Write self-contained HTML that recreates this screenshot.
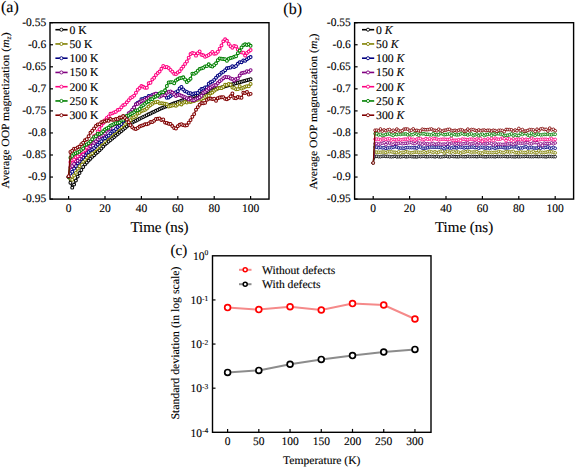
<!DOCTYPE html>
<html><head><meta charset="utf-8"><style>
html,body{margin:0;padding:0;background:#fff;width:575px;height:467px;overflow:hidden;}
svg{display:block;font-family:"Liberation Serif", serif;text-rendering:geometricPrecision;}
text{stroke:#000;stroke-width:0.12px;}
</style></head><body>
<svg width="575" height="467" viewBox="0 0 575 467" font-family='"Liberation Serif", serif'>
<rect width="575" height="467" fill="#fff"/>
<g stroke="#000" stroke-width="1.2">
<line x1="50" y1="22.7" x2="53" y2="22.7"/>
<line x1="50" y1="44.75" x2="53" y2="44.75"/>
<line x1="50" y1="66.8" x2="53" y2="66.8"/>
<line x1="50" y1="88.85" x2="53" y2="88.85"/>
<line x1="50" y1="110.9" x2="53" y2="110.9"/>
<line x1="50" y1="132.95" x2="53" y2="132.95"/>
<line x1="50" y1="155" x2="53" y2="155"/>
<line x1="50" y1="177.05" x2="53" y2="177.05"/>
<line x1="50" y1="199.1" x2="53" y2="199.1"/>
<line x1="68.6" y1="199.1" x2="68.6" y2="195.9"/>
<line x1="105" y1="199.1" x2="105" y2="195.9"/>
<line x1="141.4" y1="199.1" x2="141.4" y2="195.9"/>
<line x1="177.8" y1="199.1" x2="177.8" y2="195.9"/>
<line x1="214.2" y1="199.1" x2="214.2" y2="195.9"/>
<line x1="250.6" y1="199.1" x2="250.6" y2="195.9"/>
</g>
<g font-size="11.5" text-anchor="end">
<text x="46.2" y="25.8">-0.55</text>
<text x="46.2" y="47.85">-0.6</text>
<text x="46.2" y="69.9">-0.65</text>
<text x="46.2" y="91.95">-0.7</text>
<text x="46.2" y="114">-0.75</text>
<text x="46.2" y="136.05">-0.8</text>
<text x="46.2" y="158.1">-0.85</text>
<text x="46.2" y="180.15">-0.9</text>
<text x="46.2" y="202.2">-0.95</text>
</g>
<g font-size="11.5" text-anchor="middle">
<text x="68.6" y="211.7">0</text>
<text x="105" y="211.7">20</text>
<text x="141.4" y="211.7">40</text>
<text x="177.8" y="211.7">60</text>
<text x="214.2" y="211.7">80</text>
<text x="250.6" y="211.7">100</text>
</g>
<text x="159.5" y="231.5" font-size="15" text-anchor="middle">Time (ns)</text>
<text transform="translate(8.7,188.4) rotate(-90)" font-size="11" textLength="156" lengthAdjust="spacingAndGlyphs">Average OOP magnetization (<tspan font-style="italic">m</tspan><tspan font-size="7.5" font-style="italic" dy="2.2">z</tspan><tspan dy="-2.2">)</tspan></text>
<text x="1" y="11.8" font-size="16">(a)</text>
<line x1="55.4" y1="29.7" x2="67.6" y2="29.7" stroke="#000000" stroke-width="1.6"/>
<circle cx="61.4" cy="29.7" r="1.55" fill="#fff" stroke="#000000" stroke-width="0.9"/>
<text x="69.5" y="33.5" font-size="11.7">0 K</text>
<line x1="55.4" y1="43.95" x2="67.6" y2="43.95" stroke="#808000" stroke-width="1.6"/>
<circle cx="61.4" cy="43.95" r="1.55" fill="#fff" stroke="#808000" stroke-width="0.9"/>
<text x="69.5" y="47.75" font-size="11.7">50 K</text>
<line x1="55.4" y1="58.2" x2="67.6" y2="58.2" stroke="#000080" stroke-width="1.6"/>
<circle cx="61.4" cy="58.2" r="1.55" fill="#fff" stroke="#000080" stroke-width="0.9"/>
<text x="69.5" y="62" font-size="11.7">100 K</text>
<line x1="55.4" y1="72.45" x2="67.6" y2="72.45" stroke="#800080" stroke-width="1.6"/>
<circle cx="61.4" cy="72.45" r="1.55" fill="#fff" stroke="#800080" stroke-width="0.9"/>
<text x="69.5" y="76.25" font-size="11.7">150 K</text>
<line x1="55.4" y1="86.7" x2="67.6" y2="86.7" stroke="#ff0080" stroke-width="1.6"/>
<circle cx="61.4" cy="86.7" r="1.55" fill="#fff" stroke="#ff0080" stroke-width="0.9"/>
<text x="69.5" y="90.5" font-size="11.7">200 K</text>
<line x1="55.4" y1="100.95" x2="67.6" y2="100.95" stroke="#008000" stroke-width="1.6"/>
<circle cx="61.4" cy="100.95" r="1.55" fill="#fff" stroke="#008000" stroke-width="0.9"/>
<text x="69.5" y="104.75" font-size="11.7">250 K</text>
<line x1="55.4" y1="115.2" x2="67.6" y2="115.2" stroke="#800000" stroke-width="1.6"/>
<circle cx="61.4" cy="115.2" r="1.55" fill="#fff" stroke="#800000" stroke-width="0.9"/>
<text x="69.5" y="119" font-size="11.7">300 K</text>
<polyline points="68.6,177.05 70.42,182.78 72.24,187.63 74.06,184.55 75.88,180.58 77.7,176.61 79.52,173.08 81.34,170.03 83.16,166.97 84.98,164.38 86.8,162.48 88.62,160.57 90.44,158.67 92.26,156.76 94.08,155.16 95.9,153.56 97.72,151.95 99.54,150.35 101.36,148.49 103.18,146.45 105,144.42 106.82,142.95 108.64,141.48 110.46,140.01 112.28,138.54 114.1,137.07 115.92,135.6 117.74,134.08 119.56,132.56 121.38,131.03 123.2,129.5 125.02,127.97 126.84,126.44 128.66,124.91 130.48,123.5 132.3,122.56 134.12,121.61 135.94,120.66 137.76,119.72 139.58,118.77 141.4,117.87 143.22,116.99 145.04,116.1 146.86,115.22 148.68,114.34 150.5,113.46 152.32,112.58 154.14,111.69 155.96,110.81 157.78,109.93 159.6,109.05 161.42,108.27 163.24,107.56 165.06,106.85 166.88,106.15 168.7,105.44 170.52,104.73 172.34,104.02 174.16,103.32 175.98,102.64 177.8,102 179.62,101.36 181.44,100.72 183.26,100.08 185.08,99.43 186.9,98.79 188.72,98.15 190.54,97.51 192.36,96.87 194.18,96.23 196,95.6 197.82,95 199.64,94.39 201.46,93.78 203.28,93.18 205.1,92.57 206.92,91.96 208.74,91.35 210.56,90.75 212.38,90.14 214.2,89.53 216.02,88.98 217.84,88.46 219.66,87.94 221.48,87.41 223.3,86.89 225.12,86.37 226.94,85.85 228.76,85.33 230.58,84.81 232.4,84.29 234.22,83.77 236.04,83.25 237.86,82.74 239.68,82.22 241.5,81.71 243.32,81.2 245.14,80.69 246.96,80.17 248.78,79.66 250.6,79.15" fill="none" stroke="#000000" stroke-width="1.3" stroke-linejoin="round"/>
<g fill="#fff" stroke="#000000" stroke-width="1.05">
<circle cx="68.6" cy="177.05" r="1.45"/>
<circle cx="70.42" cy="182.78" r="1.45"/>
<circle cx="72.24" cy="187.63" r="1.45"/>
<circle cx="74.06" cy="184.55" r="1.45"/>
<circle cx="75.88" cy="180.58" r="1.45"/>
<circle cx="77.7" cy="176.61" r="1.45"/>
<circle cx="79.52" cy="173.08" r="1.45"/>
<circle cx="81.34" cy="170.03" r="1.45"/>
<circle cx="83.16" cy="166.97" r="1.45"/>
<circle cx="84.98" cy="164.38" r="1.45"/>
<circle cx="86.8" cy="162.48" r="1.45"/>
<circle cx="88.62" cy="160.57" r="1.45"/>
<circle cx="90.44" cy="158.67" r="1.45"/>
<circle cx="92.26" cy="156.76" r="1.45"/>
<circle cx="94.08" cy="155.16" r="1.45"/>
<circle cx="95.9" cy="153.56" r="1.45"/>
<circle cx="97.72" cy="151.95" r="1.45"/>
<circle cx="99.54" cy="150.35" r="1.45"/>
<circle cx="101.36" cy="148.49" r="1.45"/>
<circle cx="103.18" cy="146.45" r="1.45"/>
<circle cx="105" cy="144.42" r="1.45"/>
<circle cx="106.82" cy="142.95" r="1.45"/>
<circle cx="108.64" cy="141.48" r="1.45"/>
<circle cx="110.46" cy="140.01" r="1.45"/>
<circle cx="112.28" cy="138.54" r="1.45"/>
<circle cx="114.1" cy="137.07" r="1.45"/>
<circle cx="115.92" cy="135.6" r="1.45"/>
<circle cx="117.74" cy="134.08" r="1.45"/>
<circle cx="119.56" cy="132.56" r="1.45"/>
<circle cx="121.38" cy="131.03" r="1.45"/>
<circle cx="123.2" cy="129.5" r="1.45"/>
<circle cx="125.02" cy="127.97" r="1.45"/>
<circle cx="126.84" cy="126.44" r="1.45"/>
<circle cx="128.66" cy="124.91" r="1.45"/>
<circle cx="130.48" cy="123.5" r="1.45"/>
<circle cx="132.3" cy="122.56" r="1.45"/>
<circle cx="134.12" cy="121.61" r="1.45"/>
<circle cx="135.94" cy="120.66" r="1.45"/>
<circle cx="137.76" cy="119.72" r="1.45"/>
<circle cx="139.58" cy="118.77" r="1.45"/>
<circle cx="141.4" cy="117.87" r="1.45"/>
<circle cx="143.22" cy="116.99" r="1.45"/>
<circle cx="145.04" cy="116.1" r="1.45"/>
<circle cx="146.86" cy="115.22" r="1.45"/>
<circle cx="148.68" cy="114.34" r="1.45"/>
<circle cx="150.5" cy="113.46" r="1.45"/>
<circle cx="152.32" cy="112.58" r="1.45"/>
<circle cx="154.14" cy="111.69" r="1.45"/>
<circle cx="155.96" cy="110.81" r="1.45"/>
<circle cx="157.78" cy="109.93" r="1.45"/>
<circle cx="159.6" cy="109.05" r="1.45"/>
<circle cx="161.42" cy="108.27" r="1.45"/>
<circle cx="163.24" cy="107.56" r="1.45"/>
<circle cx="165.06" cy="106.85" r="1.45"/>
<circle cx="166.88" cy="106.15" r="1.45"/>
<circle cx="168.7" cy="105.44" r="1.45"/>
<circle cx="170.52" cy="104.73" r="1.45"/>
<circle cx="172.34" cy="104.02" r="1.45"/>
<circle cx="174.16" cy="103.32" r="1.45"/>
<circle cx="175.98" cy="102.64" r="1.45"/>
<circle cx="177.8" cy="102" r="1.45"/>
<circle cx="179.62" cy="101.36" r="1.45"/>
<circle cx="181.44" cy="100.72" r="1.45"/>
<circle cx="183.26" cy="100.08" r="1.45"/>
<circle cx="185.08" cy="99.43" r="1.45"/>
<circle cx="186.9" cy="98.79" r="1.45"/>
<circle cx="188.72" cy="98.15" r="1.45"/>
<circle cx="190.54" cy="97.51" r="1.45"/>
<circle cx="192.36" cy="96.87" r="1.45"/>
<circle cx="194.18" cy="96.23" r="1.45"/>
<circle cx="196" cy="95.6" r="1.45"/>
<circle cx="197.82" cy="95" r="1.45"/>
<circle cx="199.64" cy="94.39" r="1.45"/>
<circle cx="201.46" cy="93.78" r="1.45"/>
<circle cx="203.28" cy="93.18" r="1.45"/>
<circle cx="205.1" cy="92.57" r="1.45"/>
<circle cx="206.92" cy="91.96" r="1.45"/>
<circle cx="208.74" cy="91.35" r="1.45"/>
<circle cx="210.56" cy="90.75" r="1.45"/>
<circle cx="212.38" cy="90.14" r="1.45"/>
<circle cx="214.2" cy="89.53" r="1.45"/>
<circle cx="216.02" cy="88.98" r="1.45"/>
<circle cx="217.84" cy="88.46" r="1.45"/>
<circle cx="219.66" cy="87.94" r="1.45"/>
<circle cx="221.48" cy="87.41" r="1.45"/>
<circle cx="223.3" cy="86.89" r="1.45"/>
<circle cx="225.12" cy="86.37" r="1.45"/>
<circle cx="226.94" cy="85.85" r="1.45"/>
<circle cx="228.76" cy="85.33" r="1.45"/>
<circle cx="230.58" cy="84.81" r="1.45"/>
<circle cx="232.4" cy="84.29" r="1.45"/>
<circle cx="234.22" cy="83.77" r="1.45"/>
<circle cx="236.04" cy="83.25" r="1.45"/>
<circle cx="237.86" cy="82.74" r="1.45"/>
<circle cx="239.68" cy="82.22" r="1.45"/>
<circle cx="241.5" cy="81.71" r="1.45"/>
<circle cx="243.32" cy="81.2" r="1.45"/>
<circle cx="245.14" cy="80.69" r="1.45"/>
<circle cx="246.96" cy="80.17" r="1.45"/>
<circle cx="248.78" cy="79.66" r="1.45"/>
<circle cx="250.6" cy="79.15" r="1.45"/>
</g>
<polyline points="68.6,177.05 70.42,178.81 72.24,179.7 74.06,175.47 75.88,172.86 77.7,168.64 79.52,166.15 81.34,162.29 83.16,161.63 84.98,159.73 86.8,157.61 88.62,155.42 90.44,153.99 92.26,153.24 94.08,150.8 95.9,149.18 97.72,147.7 99.54,146.1 101.36,143.11 103.18,142.53 105,141.05 106.82,138.55 108.64,137.1 110.46,135.64 112.28,133.71 114.1,132.4 115.92,130.99 117.74,129.2 119.56,128.04 121.38,127 123.2,125.35 125.02,123.91 126.84,122.01 128.66,121.17 130.48,120.19 132.3,117.8 134.12,117.17 135.94,116.12 137.76,113.51 139.58,112.71 141.4,110.93 143.22,110.49 145.04,109.83 146.86,108.47 148.68,106.62 150.5,105.02 152.32,103.84 154.14,102.55 155.96,102.21 157.78,101.72 159.6,103.35 161.42,103.17 163.24,103.36 165.06,103.79 166.88,104.1 168.7,106.48 170.52,105.9 172.34,105.52 174.16,105.16 175.98,105.69 177.8,104.51 179.62,103.2 181.44,104.44 183.26,102.86 185.08,101.99 186.9,102.53 188.72,101.45 190.54,101.93 192.36,101.39 194.18,100.99 196,100.01 197.82,99.67 199.64,98.61 201.46,99.12 203.28,98.19 205.1,97.04 206.92,95.99 208.74,95.73 210.56,93.36 212.38,92.55 214.2,90.68 216.02,89.61 217.84,88.3 219.66,88.07 221.48,88.13 223.3,86.85 225.12,84.71 226.94,85 228.76,84.03 230.58,84.74 232.4,87.48 234.22,87.95 236.04,89.2 237.86,89.13 239.68,86.21 241.5,88.46 243.32,87.63 245.14,86.67 246.96,86.29 248.78,86.31 250.6,83.9" fill="none" stroke="#808000" stroke-width="1.3" stroke-linejoin="round"/>
<g fill="#fff" stroke="#808000" stroke-width="1.05">
<circle cx="68.6" cy="177.05" r="1.45"/>
<circle cx="70.42" cy="178.81" r="1.45"/>
<circle cx="72.24" cy="179.7" r="1.45"/>
<circle cx="74.06" cy="175.47" r="1.45"/>
<circle cx="75.88" cy="172.86" r="1.45"/>
<circle cx="77.7" cy="168.64" r="1.45"/>
<circle cx="79.52" cy="166.15" r="1.45"/>
<circle cx="81.34" cy="162.29" r="1.45"/>
<circle cx="83.16" cy="161.63" r="1.45"/>
<circle cx="84.98" cy="159.73" r="1.45"/>
<circle cx="86.8" cy="157.61" r="1.45"/>
<circle cx="88.62" cy="155.42" r="1.45"/>
<circle cx="90.44" cy="153.99" r="1.45"/>
<circle cx="92.26" cy="153.24" r="1.45"/>
<circle cx="94.08" cy="150.8" r="1.45"/>
<circle cx="95.9" cy="149.18" r="1.45"/>
<circle cx="97.72" cy="147.7" r="1.45"/>
<circle cx="99.54" cy="146.1" r="1.45"/>
<circle cx="101.36" cy="143.11" r="1.45"/>
<circle cx="103.18" cy="142.53" r="1.45"/>
<circle cx="105" cy="141.05" r="1.45"/>
<circle cx="106.82" cy="138.55" r="1.45"/>
<circle cx="108.64" cy="137.1" r="1.45"/>
<circle cx="110.46" cy="135.64" r="1.45"/>
<circle cx="112.28" cy="133.71" r="1.45"/>
<circle cx="114.1" cy="132.4" r="1.45"/>
<circle cx="115.92" cy="130.99" r="1.45"/>
<circle cx="117.74" cy="129.2" r="1.45"/>
<circle cx="119.56" cy="128.04" r="1.45"/>
<circle cx="121.38" cy="127" r="1.45"/>
<circle cx="123.2" cy="125.35" r="1.45"/>
<circle cx="125.02" cy="123.91" r="1.45"/>
<circle cx="126.84" cy="122.01" r="1.45"/>
<circle cx="128.66" cy="121.17" r="1.45"/>
<circle cx="130.48" cy="120.19" r="1.45"/>
<circle cx="132.3" cy="117.8" r="1.45"/>
<circle cx="134.12" cy="117.17" r="1.45"/>
<circle cx="135.94" cy="116.12" r="1.45"/>
<circle cx="137.76" cy="113.51" r="1.45"/>
<circle cx="139.58" cy="112.71" r="1.45"/>
<circle cx="141.4" cy="110.93" r="1.45"/>
<circle cx="143.22" cy="110.49" r="1.45"/>
<circle cx="145.04" cy="109.83" r="1.45"/>
<circle cx="146.86" cy="108.47" r="1.45"/>
<circle cx="148.68" cy="106.62" r="1.45"/>
<circle cx="150.5" cy="105.02" r="1.45"/>
<circle cx="152.32" cy="103.84" r="1.45"/>
<circle cx="154.14" cy="102.55" r="1.45"/>
<circle cx="155.96" cy="102.21" r="1.45"/>
<circle cx="157.78" cy="101.72" r="1.45"/>
<circle cx="159.6" cy="103.35" r="1.45"/>
<circle cx="161.42" cy="103.17" r="1.45"/>
<circle cx="163.24" cy="103.36" r="1.45"/>
<circle cx="165.06" cy="103.79" r="1.45"/>
<circle cx="166.88" cy="104.1" r="1.45"/>
<circle cx="168.7" cy="106.48" r="1.45"/>
<circle cx="170.52" cy="105.9" r="1.45"/>
<circle cx="172.34" cy="105.52" r="1.45"/>
<circle cx="174.16" cy="105.16" r="1.45"/>
<circle cx="175.98" cy="105.69" r="1.45"/>
<circle cx="177.8" cy="104.51" r="1.45"/>
<circle cx="179.62" cy="103.2" r="1.45"/>
<circle cx="181.44" cy="104.44" r="1.45"/>
<circle cx="183.26" cy="102.86" r="1.45"/>
<circle cx="185.08" cy="101.99" r="1.45"/>
<circle cx="186.9" cy="102.53" r="1.45"/>
<circle cx="188.72" cy="101.45" r="1.45"/>
<circle cx="190.54" cy="101.93" r="1.45"/>
<circle cx="192.36" cy="101.39" r="1.45"/>
<circle cx="194.18" cy="100.99" r="1.45"/>
<circle cx="196" cy="100.01" r="1.45"/>
<circle cx="197.82" cy="99.67" r="1.45"/>
<circle cx="199.64" cy="98.61" r="1.45"/>
<circle cx="201.46" cy="99.12" r="1.45"/>
<circle cx="203.28" cy="98.19" r="1.45"/>
<circle cx="205.1" cy="97.04" r="1.45"/>
<circle cx="206.92" cy="95.99" r="1.45"/>
<circle cx="208.74" cy="95.73" r="1.45"/>
<circle cx="210.56" cy="93.36" r="1.45"/>
<circle cx="212.38" cy="92.55" r="1.45"/>
<circle cx="214.2" cy="90.68" r="1.45"/>
<circle cx="216.02" cy="89.61" r="1.45"/>
<circle cx="217.84" cy="88.3" r="1.45"/>
<circle cx="219.66" cy="88.07" r="1.45"/>
<circle cx="221.48" cy="88.13" r="1.45"/>
<circle cx="223.3" cy="86.85" r="1.45"/>
<circle cx="225.12" cy="84.71" r="1.45"/>
<circle cx="226.94" cy="85" r="1.45"/>
<circle cx="228.76" cy="84.03" r="1.45"/>
<circle cx="230.58" cy="84.74" r="1.45"/>
<circle cx="232.4" cy="87.48" r="1.45"/>
<circle cx="234.22" cy="87.95" r="1.45"/>
<circle cx="236.04" cy="89.2" r="1.45"/>
<circle cx="237.86" cy="89.13" r="1.45"/>
<circle cx="239.68" cy="86.21" r="1.45"/>
<circle cx="241.5" cy="88.46" r="1.45"/>
<circle cx="243.32" cy="87.63" r="1.45"/>
<circle cx="245.14" cy="86.67" r="1.45"/>
<circle cx="246.96" cy="86.29" r="1.45"/>
<circle cx="248.78" cy="86.31" r="1.45"/>
<circle cx="250.6" cy="83.9" r="1.45"/>
</g>
<polyline points="68.6,177.05 70.42,173.52 72.24,171.76 74.06,168.53 75.88,166.03 77.7,163.14 79.52,161.49 81.34,159.1 83.16,157.61 84.98,155.17 86.8,152.68 88.62,151.91 90.44,150.34 92.26,149.42 94.08,147.96 95.9,146.11 97.72,144.61 99.54,142.57 101.36,141.17 103.18,138.73 105,138.19 106.82,136.61 108.64,135.46 110.46,133.38 112.28,131.56 114.1,130.84 115.92,129.01 117.74,126.91 119.56,125.57 121.38,123.99 123.2,121.41 125.02,119.67 126.84,117.31 128.66,114.69 130.48,112.5 132.3,110.35 134.12,107.5 135.94,104.13 137.76,102.7 139.58,101.98 141.4,99.17 143.22,99.04 145.04,97.87 146.86,98.09 148.68,95.96 150.5,96.11 152.32,95.02 154.14,94.86 155.96,93.84 157.78,93.97 159.6,94.05 161.42,93.82 163.24,94.27 165.06,95.39 166.88,97.76 168.7,97.4 170.52,96 172.34,94.78 174.16,93.57 175.98,92.28 177.8,91.16 179.62,88.49 181.44,86.94 183.26,89.49 185.08,91.29 186.9,91.85 188.72,93.22 190.54,93.26 192.36,94.26 194.18,93.46 196,93.17 197.82,92.91 199.64,90.74 201.46,89.09 203.28,88.6 205.1,87.42 206.92,87.31 208.74,83.74 210.56,82.33 212.38,81.37 214.2,79.86 216.02,77.65 217.84,75.66 219.66,74.64 221.48,72.66 223.3,71.76 225.12,70.16 226.94,68.31 228.76,67.85 230.58,67.46 232.4,66.29 234.22,67.09 236.04,66.02 237.86,63.85 239.68,62.12 241.5,62.19 243.32,60.4 245.14,60.7 246.96,59.31 248.78,58.02 250.6,57.06" fill="none" stroke="#000080" stroke-width="1.3" stroke-linejoin="round"/>
<g fill="#fff" stroke="#000080" stroke-width="1.05">
<circle cx="68.6" cy="177.05" r="1.45"/>
<circle cx="70.42" cy="173.52" r="1.45"/>
<circle cx="72.24" cy="171.76" r="1.45"/>
<circle cx="74.06" cy="168.53" r="1.45"/>
<circle cx="75.88" cy="166.03" r="1.45"/>
<circle cx="77.7" cy="163.14" r="1.45"/>
<circle cx="79.52" cy="161.49" r="1.45"/>
<circle cx="81.34" cy="159.1" r="1.45"/>
<circle cx="83.16" cy="157.61" r="1.45"/>
<circle cx="84.98" cy="155.17" r="1.45"/>
<circle cx="86.8" cy="152.68" r="1.45"/>
<circle cx="88.62" cy="151.91" r="1.45"/>
<circle cx="90.44" cy="150.34" r="1.45"/>
<circle cx="92.26" cy="149.42" r="1.45"/>
<circle cx="94.08" cy="147.96" r="1.45"/>
<circle cx="95.9" cy="146.11" r="1.45"/>
<circle cx="97.72" cy="144.61" r="1.45"/>
<circle cx="99.54" cy="142.57" r="1.45"/>
<circle cx="101.36" cy="141.17" r="1.45"/>
<circle cx="103.18" cy="138.73" r="1.45"/>
<circle cx="105" cy="138.19" r="1.45"/>
<circle cx="106.82" cy="136.61" r="1.45"/>
<circle cx="108.64" cy="135.46" r="1.45"/>
<circle cx="110.46" cy="133.38" r="1.45"/>
<circle cx="112.28" cy="131.56" r="1.45"/>
<circle cx="114.1" cy="130.84" r="1.45"/>
<circle cx="115.92" cy="129.01" r="1.45"/>
<circle cx="117.74" cy="126.91" r="1.45"/>
<circle cx="119.56" cy="125.57" r="1.45"/>
<circle cx="121.38" cy="123.99" r="1.45"/>
<circle cx="123.2" cy="121.41" r="1.45"/>
<circle cx="125.02" cy="119.67" r="1.45"/>
<circle cx="126.84" cy="117.31" r="1.45"/>
<circle cx="128.66" cy="114.69" r="1.45"/>
<circle cx="130.48" cy="112.5" r="1.45"/>
<circle cx="132.3" cy="110.35" r="1.45"/>
<circle cx="134.12" cy="107.5" r="1.45"/>
<circle cx="135.94" cy="104.13" r="1.45"/>
<circle cx="137.76" cy="102.7" r="1.45"/>
<circle cx="139.58" cy="101.98" r="1.45"/>
<circle cx="141.4" cy="99.17" r="1.45"/>
<circle cx="143.22" cy="99.04" r="1.45"/>
<circle cx="145.04" cy="97.87" r="1.45"/>
<circle cx="146.86" cy="98.09" r="1.45"/>
<circle cx="148.68" cy="95.96" r="1.45"/>
<circle cx="150.5" cy="96.11" r="1.45"/>
<circle cx="152.32" cy="95.02" r="1.45"/>
<circle cx="154.14" cy="94.86" r="1.45"/>
<circle cx="155.96" cy="93.84" r="1.45"/>
<circle cx="157.78" cy="93.97" r="1.45"/>
<circle cx="159.6" cy="94.05" r="1.45"/>
<circle cx="161.42" cy="93.82" r="1.45"/>
<circle cx="163.24" cy="94.27" r="1.45"/>
<circle cx="165.06" cy="95.39" r="1.45"/>
<circle cx="166.88" cy="97.76" r="1.45"/>
<circle cx="168.7" cy="97.4" r="1.45"/>
<circle cx="170.52" cy="96" r="1.45"/>
<circle cx="172.34" cy="94.78" r="1.45"/>
<circle cx="174.16" cy="93.57" r="1.45"/>
<circle cx="175.98" cy="92.28" r="1.45"/>
<circle cx="177.8" cy="91.16" r="1.45"/>
<circle cx="179.62" cy="88.49" r="1.45"/>
<circle cx="181.44" cy="86.94" r="1.45"/>
<circle cx="183.26" cy="89.49" r="1.45"/>
<circle cx="185.08" cy="91.29" r="1.45"/>
<circle cx="186.9" cy="91.85" r="1.45"/>
<circle cx="188.72" cy="93.22" r="1.45"/>
<circle cx="190.54" cy="93.26" r="1.45"/>
<circle cx="192.36" cy="94.26" r="1.45"/>
<circle cx="194.18" cy="93.46" r="1.45"/>
<circle cx="196" cy="93.17" r="1.45"/>
<circle cx="197.82" cy="92.91" r="1.45"/>
<circle cx="199.64" cy="90.74" r="1.45"/>
<circle cx="201.46" cy="89.09" r="1.45"/>
<circle cx="203.28" cy="88.6" r="1.45"/>
<circle cx="205.1" cy="87.42" r="1.45"/>
<circle cx="206.92" cy="87.31" r="1.45"/>
<circle cx="208.74" cy="83.74" r="1.45"/>
<circle cx="210.56" cy="82.33" r="1.45"/>
<circle cx="212.38" cy="81.37" r="1.45"/>
<circle cx="214.2" cy="79.86" r="1.45"/>
<circle cx="216.02" cy="77.65" r="1.45"/>
<circle cx="217.84" cy="75.66" r="1.45"/>
<circle cx="219.66" cy="74.64" r="1.45"/>
<circle cx="221.48" cy="72.66" r="1.45"/>
<circle cx="223.3" cy="71.76" r="1.45"/>
<circle cx="225.12" cy="70.16" r="1.45"/>
<circle cx="226.94" cy="68.31" r="1.45"/>
<circle cx="228.76" cy="67.85" r="1.45"/>
<circle cx="230.58" cy="67.46" r="1.45"/>
<circle cx="232.4" cy="66.29" r="1.45"/>
<circle cx="234.22" cy="67.09" r="1.45"/>
<circle cx="236.04" cy="66.02" r="1.45"/>
<circle cx="237.86" cy="63.85" r="1.45"/>
<circle cx="239.68" cy="62.12" r="1.45"/>
<circle cx="241.5" cy="62.19" r="1.45"/>
<circle cx="243.32" cy="60.4" r="1.45"/>
<circle cx="245.14" cy="60.7" r="1.45"/>
<circle cx="246.96" cy="59.31" r="1.45"/>
<circle cx="248.78" cy="58.02" r="1.45"/>
<circle cx="250.6" cy="57.06" r="1.45"/>
</g>
<polyline points="68.6,177.05 70.42,167.35 72.24,166.02 74.06,163.92 75.88,161.16 77.7,160.57 79.52,158.71 81.34,156.25 83.16,154.47 84.98,151.05 86.8,149.53 88.62,148.29 90.44,146.34 92.26,142.8 94.08,142.94 95.9,141.33 97.72,139.09 99.54,137.33 101.36,135.96 103.18,134.98 105,133.48 106.82,130.81 108.64,129.42 110.46,128.52 112.28,125.57 114.1,124.6 115.92,123.96 117.74,122.8 119.56,121.36 121.38,120.3 123.2,119.11 125.02,116.68 126.84,116.07 128.66,113.19 130.48,112.25 132.3,109.63 134.12,107.51 135.94,104.36 137.76,103.73 139.58,102.57 141.4,101.16 143.22,100.61 145.04,99.73 146.86,98.59 148.68,97.8 150.5,96.7 152.32,97.03 154.14,94.31 155.96,93.72 157.78,95.1 159.6,96.71 161.42,95.79 163.24,94.91 165.06,95.36 166.88,92.84 168.7,91.73 170.52,91.41 172.34,92.55 174.16,94.24 175.98,95.97 177.8,95.1 179.62,95.08 181.44,95.77 183.26,96.42 185.08,97.28 186.9,98.25 188.72,99.44 190.54,98.32 192.36,100.3 194.18,100.2 196,99.12 197.82,98.34 199.64,97.23 201.46,95.73 203.28,92.75 205.1,91.8 206.92,90.09 208.74,88.47 210.56,87.57 212.38,86.29 214.2,85.21 216.02,85.06 217.84,83.09 219.66,81.18 221.48,79.87 223.3,78.15 225.12,77.01 226.94,77.17 228.76,77.16 230.58,78.45 232.4,78.92 234.22,80.41 236.04,79.07 237.86,78.47 239.68,75.44 241.5,73.32 243.32,72.69 245.14,72.43 246.96,71.28 248.78,71.77 250.6,70.1" fill="none" stroke="#800080" stroke-width="1.3" stroke-linejoin="round"/>
<g fill="#fff" stroke="#800080" stroke-width="1.05">
<circle cx="68.6" cy="177.05" r="1.45"/>
<circle cx="70.42" cy="167.35" r="1.45"/>
<circle cx="72.24" cy="166.02" r="1.45"/>
<circle cx="74.06" cy="163.92" r="1.45"/>
<circle cx="75.88" cy="161.16" r="1.45"/>
<circle cx="77.7" cy="160.57" r="1.45"/>
<circle cx="79.52" cy="158.71" r="1.45"/>
<circle cx="81.34" cy="156.25" r="1.45"/>
<circle cx="83.16" cy="154.47" r="1.45"/>
<circle cx="84.98" cy="151.05" r="1.45"/>
<circle cx="86.8" cy="149.53" r="1.45"/>
<circle cx="88.62" cy="148.29" r="1.45"/>
<circle cx="90.44" cy="146.34" r="1.45"/>
<circle cx="92.26" cy="142.8" r="1.45"/>
<circle cx="94.08" cy="142.94" r="1.45"/>
<circle cx="95.9" cy="141.33" r="1.45"/>
<circle cx="97.72" cy="139.09" r="1.45"/>
<circle cx="99.54" cy="137.33" r="1.45"/>
<circle cx="101.36" cy="135.96" r="1.45"/>
<circle cx="103.18" cy="134.98" r="1.45"/>
<circle cx="105" cy="133.48" r="1.45"/>
<circle cx="106.82" cy="130.81" r="1.45"/>
<circle cx="108.64" cy="129.42" r="1.45"/>
<circle cx="110.46" cy="128.52" r="1.45"/>
<circle cx="112.28" cy="125.57" r="1.45"/>
<circle cx="114.1" cy="124.6" r="1.45"/>
<circle cx="115.92" cy="123.96" r="1.45"/>
<circle cx="117.74" cy="122.8" r="1.45"/>
<circle cx="119.56" cy="121.36" r="1.45"/>
<circle cx="121.38" cy="120.3" r="1.45"/>
<circle cx="123.2" cy="119.11" r="1.45"/>
<circle cx="125.02" cy="116.68" r="1.45"/>
<circle cx="126.84" cy="116.07" r="1.45"/>
<circle cx="128.66" cy="113.19" r="1.45"/>
<circle cx="130.48" cy="112.25" r="1.45"/>
<circle cx="132.3" cy="109.63" r="1.45"/>
<circle cx="134.12" cy="107.51" r="1.45"/>
<circle cx="135.94" cy="104.36" r="1.45"/>
<circle cx="137.76" cy="103.73" r="1.45"/>
<circle cx="139.58" cy="102.57" r="1.45"/>
<circle cx="141.4" cy="101.16" r="1.45"/>
<circle cx="143.22" cy="100.61" r="1.45"/>
<circle cx="145.04" cy="99.73" r="1.45"/>
<circle cx="146.86" cy="98.59" r="1.45"/>
<circle cx="148.68" cy="97.8" r="1.45"/>
<circle cx="150.5" cy="96.7" r="1.45"/>
<circle cx="152.32" cy="97.03" r="1.45"/>
<circle cx="154.14" cy="94.31" r="1.45"/>
<circle cx="155.96" cy="93.72" r="1.45"/>
<circle cx="157.78" cy="95.1" r="1.45"/>
<circle cx="159.6" cy="96.71" r="1.45"/>
<circle cx="161.42" cy="95.79" r="1.45"/>
<circle cx="163.24" cy="94.91" r="1.45"/>
<circle cx="165.06" cy="95.36" r="1.45"/>
<circle cx="166.88" cy="92.84" r="1.45"/>
<circle cx="168.7" cy="91.73" r="1.45"/>
<circle cx="170.52" cy="91.41" r="1.45"/>
<circle cx="172.34" cy="92.55" r="1.45"/>
<circle cx="174.16" cy="94.24" r="1.45"/>
<circle cx="175.98" cy="95.97" r="1.45"/>
<circle cx="177.8" cy="95.1" r="1.45"/>
<circle cx="179.62" cy="95.08" r="1.45"/>
<circle cx="181.44" cy="95.77" r="1.45"/>
<circle cx="183.26" cy="96.42" r="1.45"/>
<circle cx="185.08" cy="97.28" r="1.45"/>
<circle cx="186.9" cy="98.25" r="1.45"/>
<circle cx="188.72" cy="99.44" r="1.45"/>
<circle cx="190.54" cy="98.32" r="1.45"/>
<circle cx="192.36" cy="100.3" r="1.45"/>
<circle cx="194.18" cy="100.2" r="1.45"/>
<circle cx="196" cy="99.12" r="1.45"/>
<circle cx="197.82" cy="98.34" r="1.45"/>
<circle cx="199.64" cy="97.23" r="1.45"/>
<circle cx="201.46" cy="95.73" r="1.45"/>
<circle cx="203.28" cy="92.75" r="1.45"/>
<circle cx="205.1" cy="91.8" r="1.45"/>
<circle cx="206.92" cy="90.09" r="1.45"/>
<circle cx="208.74" cy="88.47" r="1.45"/>
<circle cx="210.56" cy="87.57" r="1.45"/>
<circle cx="212.38" cy="86.29" r="1.45"/>
<circle cx="214.2" cy="85.21" r="1.45"/>
<circle cx="216.02" cy="85.06" r="1.45"/>
<circle cx="217.84" cy="83.09" r="1.45"/>
<circle cx="219.66" cy="81.18" r="1.45"/>
<circle cx="221.48" cy="79.87" r="1.45"/>
<circle cx="223.3" cy="78.15" r="1.45"/>
<circle cx="225.12" cy="77.01" r="1.45"/>
<circle cx="226.94" cy="77.17" r="1.45"/>
<circle cx="228.76" cy="77.16" r="1.45"/>
<circle cx="230.58" cy="78.45" r="1.45"/>
<circle cx="232.4" cy="78.92" r="1.45"/>
<circle cx="234.22" cy="80.41" r="1.45"/>
<circle cx="236.04" cy="79.07" r="1.45"/>
<circle cx="237.86" cy="78.47" r="1.45"/>
<circle cx="239.68" cy="75.44" r="1.45"/>
<circle cx="241.5" cy="73.32" r="1.45"/>
<circle cx="243.32" cy="72.69" r="1.45"/>
<circle cx="245.14" cy="72.43" r="1.45"/>
<circle cx="246.96" cy="71.28" r="1.45"/>
<circle cx="248.78" cy="71.77" r="1.45"/>
<circle cx="250.6" cy="70.1" r="1.45"/>
</g>
<polyline points="68.6,177.05 70.42,162.06 72.24,160.29 74.06,159.54 75.88,157.24 77.7,156.27 79.52,153.96 81.34,152.18 83.16,151.51 84.98,150.08 86.8,147.53 88.62,144.16 90.44,141.84 92.26,139.01 94.08,135.9 95.9,135.1 97.72,131.45 99.54,129.18 101.36,125.44 103.18,123.05 105,120.31 106.82,117.86 108.64,116.4 110.46,113.83 112.28,113.37 114.1,112.39 115.92,111.71 117.74,109.93 119.56,109.56 121.38,107.27 123.2,105.34 125.02,104.52 126.84,102.3 128.66,100.25 130.48,98.03 132.3,97 134.12,95.61 135.94,92.75 137.76,89.71 139.58,88.09 141.4,86.08 143.22,86.81 145.04,87.72 146.86,87.68 148.68,83.17 150.5,82.74 152.32,79.44 154.14,77.83 155.96,75.02 157.78,73.06 159.6,71.55 161.42,68.81 163.24,65.89 165.06,67.15 166.88,67.01 168.7,68.06 170.52,70.04 172.34,71.79 174.16,73.73 175.98,74.07 177.8,72.49 179.62,71.15 181.44,68.68 183.26,66.58 185.08,63.88 186.9,61.5 188.72,57.69 190.54,54.1 192.36,52.99 194.18,53.39 196,55.64 197.82,53.24 199.64,51.39 201.46,54.71 203.28,55.35 205.1,56.7 206.92,55.98 208.74,55.02 210.56,53.81 212.38,51.93 214.2,53.72 216.02,53.51 217.84,51.78 219.66,48.68 221.48,45.44 223.3,41.34 225.12,39.34 226.94,40.82 228.76,43.88 230.58,46.28 232.4,47.66 234.22,46 236.04,46.43 237.86,49.38 239.68,51.91 241.5,52.39 243.32,52.76 245.14,55.57 246.96,52.9 248.78,51.6 250.6,50.05" fill="none" stroke="#ff0080" stroke-width="1.3" stroke-linejoin="round"/>
<g fill="#fff" stroke="#ff0080" stroke-width="1.05">
<circle cx="68.6" cy="177.05" r="1.45"/>
<circle cx="70.42" cy="162.06" r="1.45"/>
<circle cx="72.24" cy="160.29" r="1.45"/>
<circle cx="74.06" cy="159.54" r="1.45"/>
<circle cx="75.88" cy="157.24" r="1.45"/>
<circle cx="77.7" cy="156.27" r="1.45"/>
<circle cx="79.52" cy="153.96" r="1.45"/>
<circle cx="81.34" cy="152.18" r="1.45"/>
<circle cx="83.16" cy="151.51" r="1.45"/>
<circle cx="84.98" cy="150.08" r="1.45"/>
<circle cx="86.8" cy="147.53" r="1.45"/>
<circle cx="88.62" cy="144.16" r="1.45"/>
<circle cx="90.44" cy="141.84" r="1.45"/>
<circle cx="92.26" cy="139.01" r="1.45"/>
<circle cx="94.08" cy="135.9" r="1.45"/>
<circle cx="95.9" cy="135.1" r="1.45"/>
<circle cx="97.72" cy="131.45" r="1.45"/>
<circle cx="99.54" cy="129.18" r="1.45"/>
<circle cx="101.36" cy="125.44" r="1.45"/>
<circle cx="103.18" cy="123.05" r="1.45"/>
<circle cx="105" cy="120.31" r="1.45"/>
<circle cx="106.82" cy="117.86" r="1.45"/>
<circle cx="108.64" cy="116.4" r="1.45"/>
<circle cx="110.46" cy="113.83" r="1.45"/>
<circle cx="112.28" cy="113.37" r="1.45"/>
<circle cx="114.1" cy="112.39" r="1.45"/>
<circle cx="115.92" cy="111.71" r="1.45"/>
<circle cx="117.74" cy="109.93" r="1.45"/>
<circle cx="119.56" cy="109.56" r="1.45"/>
<circle cx="121.38" cy="107.27" r="1.45"/>
<circle cx="123.2" cy="105.34" r="1.45"/>
<circle cx="125.02" cy="104.52" r="1.45"/>
<circle cx="126.84" cy="102.3" r="1.45"/>
<circle cx="128.66" cy="100.25" r="1.45"/>
<circle cx="130.48" cy="98.03" r="1.45"/>
<circle cx="132.3" cy="97" r="1.45"/>
<circle cx="134.12" cy="95.61" r="1.45"/>
<circle cx="135.94" cy="92.75" r="1.45"/>
<circle cx="137.76" cy="89.71" r="1.45"/>
<circle cx="139.58" cy="88.09" r="1.45"/>
<circle cx="141.4" cy="86.08" r="1.45"/>
<circle cx="143.22" cy="86.81" r="1.45"/>
<circle cx="145.04" cy="87.72" r="1.45"/>
<circle cx="146.86" cy="87.68" r="1.45"/>
<circle cx="148.68" cy="83.17" r="1.45"/>
<circle cx="150.5" cy="82.74" r="1.45"/>
<circle cx="152.32" cy="79.44" r="1.45"/>
<circle cx="154.14" cy="77.83" r="1.45"/>
<circle cx="155.96" cy="75.02" r="1.45"/>
<circle cx="157.78" cy="73.06" r="1.45"/>
<circle cx="159.6" cy="71.55" r="1.45"/>
<circle cx="161.42" cy="68.81" r="1.45"/>
<circle cx="163.24" cy="65.89" r="1.45"/>
<circle cx="165.06" cy="67.15" r="1.45"/>
<circle cx="166.88" cy="67.01" r="1.45"/>
<circle cx="168.7" cy="68.06" r="1.45"/>
<circle cx="170.52" cy="70.04" r="1.45"/>
<circle cx="172.34" cy="71.79" r="1.45"/>
<circle cx="174.16" cy="73.73" r="1.45"/>
<circle cx="175.98" cy="74.07" r="1.45"/>
<circle cx="177.8" cy="72.49" r="1.45"/>
<circle cx="179.62" cy="71.15" r="1.45"/>
<circle cx="181.44" cy="68.68" r="1.45"/>
<circle cx="183.26" cy="66.58" r="1.45"/>
<circle cx="185.08" cy="63.88" r="1.45"/>
<circle cx="186.9" cy="61.5" r="1.45"/>
<circle cx="188.72" cy="57.69" r="1.45"/>
<circle cx="190.54" cy="54.1" r="1.45"/>
<circle cx="192.36" cy="52.99" r="1.45"/>
<circle cx="194.18" cy="53.39" r="1.45"/>
<circle cx="196" cy="55.64" r="1.45"/>
<circle cx="197.82" cy="53.24" r="1.45"/>
<circle cx="199.64" cy="51.39" r="1.45"/>
<circle cx="201.46" cy="54.71" r="1.45"/>
<circle cx="203.28" cy="55.35" r="1.45"/>
<circle cx="205.1" cy="56.7" r="1.45"/>
<circle cx="206.92" cy="55.98" r="1.45"/>
<circle cx="208.74" cy="55.02" r="1.45"/>
<circle cx="210.56" cy="53.81" r="1.45"/>
<circle cx="212.38" cy="51.93" r="1.45"/>
<circle cx="214.2" cy="53.72" r="1.45"/>
<circle cx="216.02" cy="53.51" r="1.45"/>
<circle cx="217.84" cy="51.78" r="1.45"/>
<circle cx="219.66" cy="48.68" r="1.45"/>
<circle cx="221.48" cy="45.44" r="1.45"/>
<circle cx="223.3" cy="41.34" r="1.45"/>
<circle cx="225.12" cy="39.34" r="1.45"/>
<circle cx="226.94" cy="40.82" r="1.45"/>
<circle cx="228.76" cy="43.88" r="1.45"/>
<circle cx="230.58" cy="46.28" r="1.45"/>
<circle cx="232.4" cy="47.66" r="1.45"/>
<circle cx="234.22" cy="46" r="1.45"/>
<circle cx="236.04" cy="46.43" r="1.45"/>
<circle cx="237.86" cy="49.38" r="1.45"/>
<circle cx="239.68" cy="51.91" r="1.45"/>
<circle cx="241.5" cy="52.39" r="1.45"/>
<circle cx="243.32" cy="52.76" r="1.45"/>
<circle cx="245.14" cy="55.57" r="1.45"/>
<circle cx="246.96" cy="52.9" r="1.45"/>
<circle cx="248.78" cy="51.6" r="1.45"/>
<circle cx="250.6" cy="50.05" r="1.45"/>
</g>
<polyline points="68.6,177.05 70.42,157.65 72.24,155.88 74.06,153.93 75.88,153.27 77.7,152.45 79.52,151.54 81.34,149.85 83.16,148.54 84.98,145.12 86.8,144.5 88.62,143.25 90.44,141.37 92.26,139.25 94.08,136.86 95.9,136.29 97.72,133.76 99.54,134.08 101.36,133.01 103.18,131.3 105,129.56 106.82,128.37 108.64,127.56 110.46,125.61 112.28,124.93 114.1,123.93 115.92,123.27 117.74,123.11 119.56,122.47 121.38,120.49 123.2,119.7 125.02,116.84 126.84,116.03 128.66,115.51 130.48,114.16 132.3,113.28 134.12,112.1 135.94,110.41 137.76,110.24 139.58,109.03 141.4,106.42 143.22,105.26 145.04,103.72 146.86,102.22 148.68,101.19 150.5,99.33 152.32,98.96 154.14,97.19 155.96,96.45 157.78,95.47 159.6,93.4 161.42,92.24 163.24,92.16 165.06,90.33 166.88,85.95 168.7,82.51 170.52,82.21 172.34,82.27 174.16,83.23 175.98,80.47 177.8,79.34 179.62,78.26 181.44,77.88 183.26,77.33 185.08,79.51 186.9,82.01 188.72,80.39 190.54,78.67 192.36,73.61 194.18,73.74 196,72.69 197.82,70.77 199.64,68.88 201.46,68.38 203.28,67.73 205.1,66.37 206.92,66.1 208.74,64.35 210.56,65.99 212.38,66.6 214.2,65.03 216.02,63.35 217.84,60.23 219.66,58.37 221.48,58.73 223.3,58.96 225.12,59.17 226.94,60.74 228.76,58.78 230.58,57.96 232.4,57.61 234.22,56.8 236.04,56.28 237.86,53.19 239.68,50.57 241.5,47.48 243.32,45.13 245.14,44.3 246.96,44.9 248.78,44.33 250.6,45.81" fill="none" stroke="#008000" stroke-width="1.3" stroke-linejoin="round"/>
<g fill="#fff" stroke="#008000" stroke-width="1.05">
<circle cx="68.6" cy="177.05" r="1.45"/>
<circle cx="70.42" cy="157.65" r="1.45"/>
<circle cx="72.24" cy="155.88" r="1.45"/>
<circle cx="74.06" cy="153.93" r="1.45"/>
<circle cx="75.88" cy="153.27" r="1.45"/>
<circle cx="77.7" cy="152.45" r="1.45"/>
<circle cx="79.52" cy="151.54" r="1.45"/>
<circle cx="81.34" cy="149.85" r="1.45"/>
<circle cx="83.16" cy="148.54" r="1.45"/>
<circle cx="84.98" cy="145.12" r="1.45"/>
<circle cx="86.8" cy="144.5" r="1.45"/>
<circle cx="88.62" cy="143.25" r="1.45"/>
<circle cx="90.44" cy="141.37" r="1.45"/>
<circle cx="92.26" cy="139.25" r="1.45"/>
<circle cx="94.08" cy="136.86" r="1.45"/>
<circle cx="95.9" cy="136.29" r="1.45"/>
<circle cx="97.72" cy="133.76" r="1.45"/>
<circle cx="99.54" cy="134.08" r="1.45"/>
<circle cx="101.36" cy="133.01" r="1.45"/>
<circle cx="103.18" cy="131.3" r="1.45"/>
<circle cx="105" cy="129.56" r="1.45"/>
<circle cx="106.82" cy="128.37" r="1.45"/>
<circle cx="108.64" cy="127.56" r="1.45"/>
<circle cx="110.46" cy="125.61" r="1.45"/>
<circle cx="112.28" cy="124.93" r="1.45"/>
<circle cx="114.1" cy="123.93" r="1.45"/>
<circle cx="115.92" cy="123.27" r="1.45"/>
<circle cx="117.74" cy="123.11" r="1.45"/>
<circle cx="119.56" cy="122.47" r="1.45"/>
<circle cx="121.38" cy="120.49" r="1.45"/>
<circle cx="123.2" cy="119.7" r="1.45"/>
<circle cx="125.02" cy="116.84" r="1.45"/>
<circle cx="126.84" cy="116.03" r="1.45"/>
<circle cx="128.66" cy="115.51" r="1.45"/>
<circle cx="130.48" cy="114.16" r="1.45"/>
<circle cx="132.3" cy="113.28" r="1.45"/>
<circle cx="134.12" cy="112.1" r="1.45"/>
<circle cx="135.94" cy="110.41" r="1.45"/>
<circle cx="137.76" cy="110.24" r="1.45"/>
<circle cx="139.58" cy="109.03" r="1.45"/>
<circle cx="141.4" cy="106.42" r="1.45"/>
<circle cx="143.22" cy="105.26" r="1.45"/>
<circle cx="145.04" cy="103.72" r="1.45"/>
<circle cx="146.86" cy="102.22" r="1.45"/>
<circle cx="148.68" cy="101.19" r="1.45"/>
<circle cx="150.5" cy="99.33" r="1.45"/>
<circle cx="152.32" cy="98.96" r="1.45"/>
<circle cx="154.14" cy="97.19" r="1.45"/>
<circle cx="155.96" cy="96.45" r="1.45"/>
<circle cx="157.78" cy="95.47" r="1.45"/>
<circle cx="159.6" cy="93.4" r="1.45"/>
<circle cx="161.42" cy="92.24" r="1.45"/>
<circle cx="163.24" cy="92.16" r="1.45"/>
<circle cx="165.06" cy="90.33" r="1.45"/>
<circle cx="166.88" cy="85.95" r="1.45"/>
<circle cx="168.7" cy="82.51" r="1.45"/>
<circle cx="170.52" cy="82.21" r="1.45"/>
<circle cx="172.34" cy="82.27" r="1.45"/>
<circle cx="174.16" cy="83.23" r="1.45"/>
<circle cx="175.98" cy="80.47" r="1.45"/>
<circle cx="177.8" cy="79.34" r="1.45"/>
<circle cx="179.62" cy="78.26" r="1.45"/>
<circle cx="181.44" cy="77.88" r="1.45"/>
<circle cx="183.26" cy="77.33" r="1.45"/>
<circle cx="185.08" cy="79.51" r="1.45"/>
<circle cx="186.9" cy="82.01" r="1.45"/>
<circle cx="188.72" cy="80.39" r="1.45"/>
<circle cx="190.54" cy="78.67" r="1.45"/>
<circle cx="192.36" cy="73.61" r="1.45"/>
<circle cx="194.18" cy="73.74" r="1.45"/>
<circle cx="196" cy="72.69" r="1.45"/>
<circle cx="197.82" cy="70.77" r="1.45"/>
<circle cx="199.64" cy="68.88" r="1.45"/>
<circle cx="201.46" cy="68.38" r="1.45"/>
<circle cx="203.28" cy="67.73" r="1.45"/>
<circle cx="205.1" cy="66.37" r="1.45"/>
<circle cx="206.92" cy="66.1" r="1.45"/>
<circle cx="208.74" cy="64.35" r="1.45"/>
<circle cx="210.56" cy="65.99" r="1.45"/>
<circle cx="212.38" cy="66.6" r="1.45"/>
<circle cx="214.2" cy="65.03" r="1.45"/>
<circle cx="216.02" cy="63.35" r="1.45"/>
<circle cx="217.84" cy="60.23" r="1.45"/>
<circle cx="219.66" cy="58.37" r="1.45"/>
<circle cx="221.48" cy="58.73" r="1.45"/>
<circle cx="223.3" cy="58.96" r="1.45"/>
<circle cx="225.12" cy="59.17" r="1.45"/>
<circle cx="226.94" cy="60.74" r="1.45"/>
<circle cx="228.76" cy="58.78" r="1.45"/>
<circle cx="230.58" cy="57.96" r="1.45"/>
<circle cx="232.4" cy="57.61" r="1.45"/>
<circle cx="234.22" cy="56.8" r="1.45"/>
<circle cx="236.04" cy="56.28" r="1.45"/>
<circle cx="237.86" cy="53.19" r="1.45"/>
<circle cx="239.68" cy="50.57" r="1.45"/>
<circle cx="241.5" cy="47.48" r="1.45"/>
<circle cx="243.32" cy="45.13" r="1.45"/>
<circle cx="245.14" cy="44.3" r="1.45"/>
<circle cx="246.96" cy="44.9" r="1.45"/>
<circle cx="248.78" cy="44.33" r="1.45"/>
<circle cx="250.6" cy="45.81" r="1.45"/>
</g>
<polyline points="68.6,176.17 70.42,151.91 72.24,150.75 74.06,148.79 75.88,148.69 77.7,147.35 79.52,146.59 81.34,144.16 83.16,142.78 84.98,140.31 86.8,139.25 88.62,136.26 90.44,132.82 92.26,130.7 94.08,128.47 95.9,125.95 97.72,124.44 99.54,124.13 101.36,122.13 103.18,121.44 105,121.57 106.82,120.43 108.64,120.83 110.46,118.96 112.28,119.85 114.1,119.76 115.92,119.09 117.74,118.88 119.56,117.57 121.38,117.41 123.2,116.05 125.02,118.04 126.84,119.5 128.66,122.15 130.48,125.2 132.3,127.19 134.12,128.6 135.94,128.93 137.76,128.04 139.58,126.55 141.4,125.73 143.22,125.19 145.04,124.32 146.86,124.2 148.68,123.52 150.5,121.91 152.32,122 154.14,120.69 155.96,118.98 157.78,118.82 159.6,118.45 161.42,119.99 163.24,119.48 165.06,122.61 166.88,122.94 168.7,123.81 170.52,123.9 172.34,126.09 174.16,127.92 175.98,128.48 177.8,126.14 179.62,124.8 181.44,124.17 183.26,125.14 185.08,125.49 186.9,125.34 188.72,122.64 190.54,120.12 192.36,116.71 194.18,114.1 196,109.68 197.82,107.12 199.64,104.79 201.46,103.07 203.28,103.26 205.1,102.87 206.92,99.86 208.74,98.74 210.56,98.56 212.38,99.1 214.2,98.74 216.02,100.87 217.84,98.27 219.66,97.53 221.48,97.31 223.3,97.24 225.12,98.77 226.94,99.33 228.76,98.27 230.58,96.32 232.4,93.47 234.22,97.94 236.04,98.3 237.86,96.97 239.68,97.5 241.5,97.79 243.32,92.65 245.14,93.12 246.96,91.93 248.78,94.51 250.6,93.86" fill="none" stroke="#800000" stroke-width="1.3" stroke-linejoin="round"/>
<g fill="#fff" stroke="#800000" stroke-width="1.05">
<circle cx="68.6" cy="176.17" r="1.45"/>
<circle cx="70.42" cy="151.91" r="1.45"/>
<circle cx="72.24" cy="150.75" r="1.45"/>
<circle cx="74.06" cy="148.79" r="1.45"/>
<circle cx="75.88" cy="148.69" r="1.45"/>
<circle cx="77.7" cy="147.35" r="1.45"/>
<circle cx="79.52" cy="146.59" r="1.45"/>
<circle cx="81.34" cy="144.16" r="1.45"/>
<circle cx="83.16" cy="142.78" r="1.45"/>
<circle cx="84.98" cy="140.31" r="1.45"/>
<circle cx="86.8" cy="139.25" r="1.45"/>
<circle cx="88.62" cy="136.26" r="1.45"/>
<circle cx="90.44" cy="132.82" r="1.45"/>
<circle cx="92.26" cy="130.7" r="1.45"/>
<circle cx="94.08" cy="128.47" r="1.45"/>
<circle cx="95.9" cy="125.95" r="1.45"/>
<circle cx="97.72" cy="124.44" r="1.45"/>
<circle cx="99.54" cy="124.13" r="1.45"/>
<circle cx="101.36" cy="122.13" r="1.45"/>
<circle cx="103.18" cy="121.44" r="1.45"/>
<circle cx="105" cy="121.57" r="1.45"/>
<circle cx="106.82" cy="120.43" r="1.45"/>
<circle cx="108.64" cy="120.83" r="1.45"/>
<circle cx="110.46" cy="118.96" r="1.45"/>
<circle cx="112.28" cy="119.85" r="1.45"/>
<circle cx="114.1" cy="119.76" r="1.45"/>
<circle cx="115.92" cy="119.09" r="1.45"/>
<circle cx="117.74" cy="118.88" r="1.45"/>
<circle cx="119.56" cy="117.57" r="1.45"/>
<circle cx="121.38" cy="117.41" r="1.45"/>
<circle cx="123.2" cy="116.05" r="1.45"/>
<circle cx="125.02" cy="118.04" r="1.45"/>
<circle cx="126.84" cy="119.5" r="1.45"/>
<circle cx="128.66" cy="122.15" r="1.45"/>
<circle cx="130.48" cy="125.2" r="1.45"/>
<circle cx="132.3" cy="127.19" r="1.45"/>
<circle cx="134.12" cy="128.6" r="1.45"/>
<circle cx="135.94" cy="128.93" r="1.45"/>
<circle cx="137.76" cy="128.04" r="1.45"/>
<circle cx="139.58" cy="126.55" r="1.45"/>
<circle cx="141.4" cy="125.73" r="1.45"/>
<circle cx="143.22" cy="125.19" r="1.45"/>
<circle cx="145.04" cy="124.32" r="1.45"/>
<circle cx="146.86" cy="124.2" r="1.45"/>
<circle cx="148.68" cy="123.52" r="1.45"/>
<circle cx="150.5" cy="121.91" r="1.45"/>
<circle cx="152.32" cy="122" r="1.45"/>
<circle cx="154.14" cy="120.69" r="1.45"/>
<circle cx="155.96" cy="118.98" r="1.45"/>
<circle cx="157.78" cy="118.82" r="1.45"/>
<circle cx="159.6" cy="118.45" r="1.45"/>
<circle cx="161.42" cy="119.99" r="1.45"/>
<circle cx="163.24" cy="119.48" r="1.45"/>
<circle cx="165.06" cy="122.61" r="1.45"/>
<circle cx="166.88" cy="122.94" r="1.45"/>
<circle cx="168.7" cy="123.81" r="1.45"/>
<circle cx="170.52" cy="123.9" r="1.45"/>
<circle cx="172.34" cy="126.09" r="1.45"/>
<circle cx="174.16" cy="127.92" r="1.45"/>
<circle cx="175.98" cy="128.48" r="1.45"/>
<circle cx="177.8" cy="126.14" r="1.45"/>
<circle cx="179.62" cy="124.8" r="1.45"/>
<circle cx="181.44" cy="124.17" r="1.45"/>
<circle cx="183.26" cy="125.14" r="1.45"/>
<circle cx="185.08" cy="125.49" r="1.45"/>
<circle cx="186.9" cy="125.34" r="1.45"/>
<circle cx="188.72" cy="122.64" r="1.45"/>
<circle cx="190.54" cy="120.12" r="1.45"/>
<circle cx="192.36" cy="116.71" r="1.45"/>
<circle cx="194.18" cy="114.1" r="1.45"/>
<circle cx="196" cy="109.68" r="1.45"/>
<circle cx="197.82" cy="107.12" r="1.45"/>
<circle cx="199.64" cy="104.79" r="1.45"/>
<circle cx="201.46" cy="103.07" r="1.45"/>
<circle cx="203.28" cy="103.26" r="1.45"/>
<circle cx="205.1" cy="102.87" r="1.45"/>
<circle cx="206.92" cy="99.86" r="1.45"/>
<circle cx="208.74" cy="98.74" r="1.45"/>
<circle cx="210.56" cy="98.56" r="1.45"/>
<circle cx="212.38" cy="99.1" r="1.45"/>
<circle cx="214.2" cy="98.74" r="1.45"/>
<circle cx="216.02" cy="100.87" r="1.45"/>
<circle cx="217.84" cy="98.27" r="1.45"/>
<circle cx="219.66" cy="97.53" r="1.45"/>
<circle cx="221.48" cy="97.31" r="1.45"/>
<circle cx="223.3" cy="97.24" r="1.45"/>
<circle cx="225.12" cy="98.77" r="1.45"/>
<circle cx="226.94" cy="99.33" r="1.45"/>
<circle cx="228.76" cy="98.27" r="1.45"/>
<circle cx="230.58" cy="96.32" r="1.45"/>
<circle cx="232.4" cy="93.47" r="1.45"/>
<circle cx="234.22" cy="97.94" r="1.45"/>
<circle cx="236.04" cy="98.3" r="1.45"/>
<circle cx="237.86" cy="96.97" r="1.45"/>
<circle cx="239.68" cy="97.5" r="1.45"/>
<circle cx="241.5" cy="97.79" r="1.45"/>
<circle cx="243.32" cy="92.65" r="1.45"/>
<circle cx="245.14" cy="93.12" r="1.45"/>
<circle cx="246.96" cy="91.93" r="1.45"/>
<circle cx="248.78" cy="94.51" r="1.45"/>
<circle cx="250.6" cy="93.86" r="1.45"/>
</g>
<rect x="50" y="22.7" width="219" height="176.4" fill="none" stroke="#000" stroke-width="1.4"/>
<g stroke="#000" stroke-width="1.2">
<line x1="354.6" y1="22.7" x2="357.6" y2="22.7"/>
<line x1="354.6" y1="44.75" x2="357.6" y2="44.75"/>
<line x1="354.6" y1="66.8" x2="357.6" y2="66.8"/>
<line x1="354.6" y1="88.85" x2="357.6" y2="88.85"/>
<line x1="354.6" y1="110.9" x2="357.6" y2="110.9"/>
<line x1="354.6" y1="132.95" x2="357.6" y2="132.95"/>
<line x1="354.6" y1="155" x2="357.6" y2="155"/>
<line x1="354.6" y1="177.05" x2="357.6" y2="177.05"/>
<line x1="354.6" y1="199.1" x2="357.6" y2="199.1"/>
<line x1="373.2" y1="199.1" x2="373.2" y2="195.9"/>
<line x1="409.6" y1="199.1" x2="409.6" y2="195.9"/>
<line x1="446" y1="199.1" x2="446" y2="195.9"/>
<line x1="482.4" y1="199.1" x2="482.4" y2="195.9"/>
<line x1="518.8" y1="199.1" x2="518.8" y2="195.9"/>
<line x1="555.2" y1="199.1" x2="555.2" y2="195.9"/>
</g>
<g font-size="11.5" text-anchor="end">
<text x="350.8" y="25.8">-0.55</text>
<text x="350.8" y="47.85">-0.6</text>
<text x="350.8" y="69.9">-0.65</text>
<text x="350.8" y="91.95">-0.7</text>
<text x="350.8" y="114">-0.75</text>
<text x="350.8" y="136.05">-0.8</text>
<text x="350.8" y="158.1">-0.85</text>
<text x="350.8" y="180.15">-0.9</text>
<text x="350.8" y="202.2">-0.95</text>
</g>
<g font-size="11.5" text-anchor="middle">
<text x="373.2" y="211.7">0</text>
<text x="409.6" y="211.7">20</text>
<text x="446" y="211.7">40</text>
<text x="482.4" y="211.7">60</text>
<text x="518.8" y="211.7">80</text>
<text x="555.2" y="211.7">100</text>
</g>
<text x="464.1" y="231.5" font-size="15" text-anchor="middle">Time (ns)</text>
<text transform="translate(316.6,189.6) rotate(-90)" font-size="11" textLength="156" lengthAdjust="spacingAndGlyphs">Average OOP magnetization (<tspan font-style="italic">m</tspan><tspan font-size="7.5" font-style="italic" dy="2.2">z</tspan><tspan dy="-2.2">)</tspan></text>
<text x="283.3" y="13.5" font-size="16">(b)</text>
<line x1="362" y1="29.7" x2="374.2" y2="29.7" stroke="#000000" stroke-width="1.6"/>
<circle cx="368" cy="29.7" r="1.55" fill="#fff" stroke="#000000" stroke-width="0.9"/>
<text x="376.1" y="33.5" font-size="11.7">0 <tspan font-style="italic">K</tspan></text>
<line x1="362" y1="43.95" x2="374.2" y2="43.95" stroke="#808000" stroke-width="1.6"/>
<circle cx="368" cy="43.95" r="1.55" fill="#fff" stroke="#808000" stroke-width="0.9"/>
<text x="376.1" y="47.75" font-size="11.7">50 <tspan font-style="italic">K</tspan></text>
<line x1="362" y1="58.2" x2="374.2" y2="58.2" stroke="#000080" stroke-width="1.6"/>
<circle cx="368" cy="58.2" r="1.55" fill="#fff" stroke="#000080" stroke-width="0.9"/>
<text x="376.1" y="62" font-size="11.7">100 <tspan font-style="italic">K</tspan></text>
<line x1="362" y1="72.45" x2="374.2" y2="72.45" stroke="#800080" stroke-width="1.6"/>
<circle cx="368" cy="72.45" r="1.55" fill="#fff" stroke="#800080" stroke-width="0.9"/>
<text x="376.1" y="76.25" font-size="11.7">150 <tspan font-style="italic">K</tspan></text>
<line x1="362" y1="86.7" x2="374.2" y2="86.7" stroke="#ff0080" stroke-width="1.6"/>
<circle cx="368" cy="86.7" r="1.55" fill="#fff" stroke="#ff0080" stroke-width="0.9"/>
<text x="376.1" y="90.5" font-size="11.7">200 <tspan font-style="italic">K</tspan></text>
<line x1="362" y1="100.95" x2="374.2" y2="100.95" stroke="#008000" stroke-width="1.6"/>
<circle cx="368" cy="100.95" r="1.55" fill="#fff" stroke="#008000" stroke-width="0.9"/>
<text x="376.1" y="104.75" font-size="11.7">250 <tspan font-style="italic">K</tspan></text>
<line x1="362" y1="115.2" x2="374.2" y2="115.2" stroke="#800000" stroke-width="1.6"/>
<circle cx="368" cy="115.2" r="1.55" fill="#fff" stroke="#800000" stroke-width="0.9"/>
<text x="376.1" y="119" font-size="11.7">300 <tspan font-style="italic">K</tspan></text>
<polyline points="373.2,162.94 375.02,156.51 376.84,156.32 378.66,156.65 380.48,156.7 382.3,156.33 384.12,156.16 385.94,156.43 387.76,156.39 389.58,156.63 391.4,156.78 393.22,156.58 395.04,156.28 396.86,156.87 398.68,156.63 400.5,156.88 402.32,156.52 404.14,156.39 405.96,156.76 407.78,156.62 409.6,156.31 411.42,156.56 413.24,156.76 415.06,156.78 416.88,156.9 418.7,156.41 420.52,156.68 422.34,156.36 424.16,156.39 425.98,156.66 427.8,156.64 429.62,156.41 431.44,156.52 433.26,156.5 435.08,156.83 436.9,156.39 438.72,156.7 440.54,156.94 442.36,156.65 444.18,156.47 446,156.17 447.82,156.61 449.64,156.78 451.46,156.17 453.28,156.52 455.1,156.59 456.92,156.73 458.74,156.72 460.56,156.28 462.38,156.59 464.2,156.64 466.02,156.63 467.84,156.27 469.66,156.65 471.48,156.43 473.3,156.5 475.12,156.5 476.94,156.7 478.76,156.43 480.58,156.26 482.4,156.55 484.22,156.71 486.04,156.77 487.86,156.51 489.68,156.59 491.5,156.56 493.32,156.54 495.14,156.8 496.96,156.41 498.78,156.5 500.6,156.56 502.42,156.5 504.24,156.38 506.06,156.53 507.88,156.69 509.7,156.34 511.52,156.62 513.34,156.67 515.16,156.82 516.98,156.54 518.8,156.73 520.62,156.64 522.44,156.46 524.26,156.54 526.08,156.36 527.9,156.49 529.72,156.61 531.54,156.6 533.36,156.63 535.18,156.43 537,156.54 538.82,156.62 540.64,156.39 542.46,156.53 544.28,156.63 546.1,156.81 547.92,156.47 549.74,156.5 551.56,156.53 553.38,156.62 555.2,156.69" fill="none" stroke="#000000" stroke-width="1.0" stroke-linejoin="round"/>
<g fill="#fff" stroke="#000000" stroke-width="0.85">
<circle cx="373.2" cy="162.94" r="1.35"/>
<circle cx="375.02" cy="156.51" r="1.35"/>
<circle cx="376.84" cy="156.32" r="1.35"/>
<circle cx="378.66" cy="156.65" r="1.35"/>
<circle cx="380.48" cy="156.7" r="1.35"/>
<circle cx="382.3" cy="156.33" r="1.35"/>
<circle cx="384.12" cy="156.16" r="1.35"/>
<circle cx="385.94" cy="156.43" r="1.35"/>
<circle cx="387.76" cy="156.39" r="1.35"/>
<circle cx="389.58" cy="156.63" r="1.35"/>
<circle cx="391.4" cy="156.78" r="1.35"/>
<circle cx="393.22" cy="156.58" r="1.35"/>
<circle cx="395.04" cy="156.28" r="1.35"/>
<circle cx="396.86" cy="156.87" r="1.35"/>
<circle cx="398.68" cy="156.63" r="1.35"/>
<circle cx="400.5" cy="156.88" r="1.35"/>
<circle cx="402.32" cy="156.52" r="1.35"/>
<circle cx="404.14" cy="156.39" r="1.35"/>
<circle cx="405.96" cy="156.76" r="1.35"/>
<circle cx="407.78" cy="156.62" r="1.35"/>
<circle cx="409.6" cy="156.31" r="1.35"/>
<circle cx="411.42" cy="156.56" r="1.35"/>
<circle cx="413.24" cy="156.76" r="1.35"/>
<circle cx="415.06" cy="156.78" r="1.35"/>
<circle cx="416.88" cy="156.9" r="1.35"/>
<circle cx="418.7" cy="156.41" r="1.35"/>
<circle cx="420.52" cy="156.68" r="1.35"/>
<circle cx="422.34" cy="156.36" r="1.35"/>
<circle cx="424.16" cy="156.39" r="1.35"/>
<circle cx="425.98" cy="156.66" r="1.35"/>
<circle cx="427.8" cy="156.64" r="1.35"/>
<circle cx="429.62" cy="156.41" r="1.35"/>
<circle cx="431.44" cy="156.52" r="1.35"/>
<circle cx="433.26" cy="156.5" r="1.35"/>
<circle cx="435.08" cy="156.83" r="1.35"/>
<circle cx="436.9" cy="156.39" r="1.35"/>
<circle cx="438.72" cy="156.7" r="1.35"/>
<circle cx="440.54" cy="156.94" r="1.35"/>
<circle cx="442.36" cy="156.65" r="1.35"/>
<circle cx="444.18" cy="156.47" r="1.35"/>
<circle cx="446" cy="156.17" r="1.35"/>
<circle cx="447.82" cy="156.61" r="1.35"/>
<circle cx="449.64" cy="156.78" r="1.35"/>
<circle cx="451.46" cy="156.17" r="1.35"/>
<circle cx="453.28" cy="156.52" r="1.35"/>
<circle cx="455.1" cy="156.59" r="1.35"/>
<circle cx="456.92" cy="156.73" r="1.35"/>
<circle cx="458.74" cy="156.72" r="1.35"/>
<circle cx="460.56" cy="156.28" r="1.35"/>
<circle cx="462.38" cy="156.59" r="1.35"/>
<circle cx="464.2" cy="156.64" r="1.35"/>
<circle cx="466.02" cy="156.63" r="1.35"/>
<circle cx="467.84" cy="156.27" r="1.35"/>
<circle cx="469.66" cy="156.65" r="1.35"/>
<circle cx="471.48" cy="156.43" r="1.35"/>
<circle cx="473.3" cy="156.5" r="1.35"/>
<circle cx="475.12" cy="156.5" r="1.35"/>
<circle cx="476.94" cy="156.7" r="1.35"/>
<circle cx="478.76" cy="156.43" r="1.35"/>
<circle cx="480.58" cy="156.26" r="1.35"/>
<circle cx="482.4" cy="156.55" r="1.35"/>
<circle cx="484.22" cy="156.71" r="1.35"/>
<circle cx="486.04" cy="156.77" r="1.35"/>
<circle cx="487.86" cy="156.51" r="1.35"/>
<circle cx="489.68" cy="156.59" r="1.35"/>
<circle cx="491.5" cy="156.56" r="1.35"/>
<circle cx="493.32" cy="156.54" r="1.35"/>
<circle cx="495.14" cy="156.8" r="1.35"/>
<circle cx="496.96" cy="156.41" r="1.35"/>
<circle cx="498.78" cy="156.5" r="1.35"/>
<circle cx="500.6" cy="156.56" r="1.35"/>
<circle cx="502.42" cy="156.5" r="1.35"/>
<circle cx="504.24" cy="156.38" r="1.35"/>
<circle cx="506.06" cy="156.53" r="1.35"/>
<circle cx="507.88" cy="156.69" r="1.35"/>
<circle cx="509.7" cy="156.34" r="1.35"/>
<circle cx="511.52" cy="156.62" r="1.35"/>
<circle cx="513.34" cy="156.67" r="1.35"/>
<circle cx="515.16" cy="156.82" r="1.35"/>
<circle cx="516.98" cy="156.54" r="1.35"/>
<circle cx="518.8" cy="156.73" r="1.35"/>
<circle cx="520.62" cy="156.64" r="1.35"/>
<circle cx="522.44" cy="156.46" r="1.35"/>
<circle cx="524.26" cy="156.54" r="1.35"/>
<circle cx="526.08" cy="156.36" r="1.35"/>
<circle cx="527.9" cy="156.49" r="1.35"/>
<circle cx="529.72" cy="156.61" r="1.35"/>
<circle cx="531.54" cy="156.6" r="1.35"/>
<circle cx="533.36" cy="156.63" r="1.35"/>
<circle cx="535.18" cy="156.43" r="1.35"/>
<circle cx="537" cy="156.54" r="1.35"/>
<circle cx="538.82" cy="156.62" r="1.35"/>
<circle cx="540.64" cy="156.39" r="1.35"/>
<circle cx="542.46" cy="156.53" r="1.35"/>
<circle cx="544.28" cy="156.63" r="1.35"/>
<circle cx="546.1" cy="156.81" r="1.35"/>
<circle cx="547.92" cy="156.47" r="1.35"/>
<circle cx="549.74" cy="156.5" r="1.35"/>
<circle cx="551.56" cy="156.53" r="1.35"/>
<circle cx="553.38" cy="156.62" r="1.35"/>
<circle cx="555.2" cy="156.69" r="1.35"/>
</g>
<polyline points="373.2,162.94 375.02,152.02 376.84,152.2 378.66,152.2 380.48,152.36 382.3,151.97 384.12,152.02 385.94,152.5 387.76,151.76 389.58,151.75 391.4,151.74 393.22,152.2 395.04,152.23 396.86,152.7 398.68,151.77 400.5,153.17 402.32,152.32 404.14,152.3 405.96,151.72 407.78,152.13 409.6,152.6 411.42,152.83 413.24,152.49 415.06,152.08 416.88,152.11 418.7,152.23 420.52,152.47 422.34,152.24 424.16,151.65 425.98,152.67 427.8,152.12 429.62,151.35 431.44,151.86 433.26,152.35 435.08,151.81 436.9,152.5 438.72,152.13 440.54,151.38 442.36,151.21 444.18,152.96 446,151.79 447.82,151.19 449.64,152.4 451.46,152.01 453.28,151.4 455.1,152.37 456.92,151.91 458.74,152.16 460.56,153.07 462.38,151.97 464.2,152.22 466.02,151.68 467.84,151.12 469.66,151.8 471.48,152.31 473.3,151.92 475.12,152.04 476.94,151.64 478.76,152.83 480.58,152.7 482.4,153.13 484.22,151.84 486.04,152.14 487.86,152.44 489.68,152.49 491.5,152.41 493.32,152.58 495.14,152.29 496.96,152.37 498.78,151.46 500.6,151.98 502.42,152.53 504.24,152.42 506.06,151.55 507.88,151.91 509.7,151.99 511.52,151.78 513.34,151.36 515.16,152.72 516.98,152.5 518.8,152.98 520.62,151.89 522.44,152.32 524.26,152.46 526.08,152.5 527.9,151.8 529.72,152.2 531.54,152.39 533.36,151.52 535.18,152.64 537,152.75 538.82,150.87 540.64,152.31 542.46,152.4 544.28,152.49 546.1,152.2 547.92,151.75 549.74,151.77 551.56,151.87 553.38,152.27 555.2,152.86" fill="none" stroke="#808000" stroke-width="1.0" stroke-linejoin="round"/>
<g fill="#fff" stroke="#808000" stroke-width="0.85">
<circle cx="373.2" cy="162.94" r="1.35"/>
<circle cx="375.02" cy="152.02" r="1.35"/>
<circle cx="376.84" cy="152.2" r="1.35"/>
<circle cx="378.66" cy="152.2" r="1.35"/>
<circle cx="380.48" cy="152.36" r="1.35"/>
<circle cx="382.3" cy="151.97" r="1.35"/>
<circle cx="384.12" cy="152.02" r="1.35"/>
<circle cx="385.94" cy="152.5" r="1.35"/>
<circle cx="387.76" cy="151.76" r="1.35"/>
<circle cx="389.58" cy="151.75" r="1.35"/>
<circle cx="391.4" cy="151.74" r="1.35"/>
<circle cx="393.22" cy="152.2" r="1.35"/>
<circle cx="395.04" cy="152.23" r="1.35"/>
<circle cx="396.86" cy="152.7" r="1.35"/>
<circle cx="398.68" cy="151.77" r="1.35"/>
<circle cx="400.5" cy="153.17" r="1.35"/>
<circle cx="402.32" cy="152.32" r="1.35"/>
<circle cx="404.14" cy="152.3" r="1.35"/>
<circle cx="405.96" cy="151.72" r="1.35"/>
<circle cx="407.78" cy="152.13" r="1.35"/>
<circle cx="409.6" cy="152.6" r="1.35"/>
<circle cx="411.42" cy="152.83" r="1.35"/>
<circle cx="413.24" cy="152.49" r="1.35"/>
<circle cx="415.06" cy="152.08" r="1.35"/>
<circle cx="416.88" cy="152.11" r="1.35"/>
<circle cx="418.7" cy="152.23" r="1.35"/>
<circle cx="420.52" cy="152.47" r="1.35"/>
<circle cx="422.34" cy="152.24" r="1.35"/>
<circle cx="424.16" cy="151.65" r="1.35"/>
<circle cx="425.98" cy="152.67" r="1.35"/>
<circle cx="427.8" cy="152.12" r="1.35"/>
<circle cx="429.62" cy="151.35" r="1.35"/>
<circle cx="431.44" cy="151.86" r="1.35"/>
<circle cx="433.26" cy="152.35" r="1.35"/>
<circle cx="435.08" cy="151.81" r="1.35"/>
<circle cx="436.9" cy="152.5" r="1.35"/>
<circle cx="438.72" cy="152.13" r="1.35"/>
<circle cx="440.54" cy="151.38" r="1.35"/>
<circle cx="442.36" cy="151.21" r="1.35"/>
<circle cx="444.18" cy="152.96" r="1.35"/>
<circle cx="446" cy="151.79" r="1.35"/>
<circle cx="447.82" cy="151.19" r="1.35"/>
<circle cx="449.64" cy="152.4" r="1.35"/>
<circle cx="451.46" cy="152.01" r="1.35"/>
<circle cx="453.28" cy="151.4" r="1.35"/>
<circle cx="455.1" cy="152.37" r="1.35"/>
<circle cx="456.92" cy="151.91" r="1.35"/>
<circle cx="458.74" cy="152.16" r="1.35"/>
<circle cx="460.56" cy="153.07" r="1.35"/>
<circle cx="462.38" cy="151.97" r="1.35"/>
<circle cx="464.2" cy="152.22" r="1.35"/>
<circle cx="466.02" cy="151.68" r="1.35"/>
<circle cx="467.84" cy="151.12" r="1.35"/>
<circle cx="469.66" cy="151.8" r="1.35"/>
<circle cx="471.48" cy="152.31" r="1.35"/>
<circle cx="473.3" cy="151.92" r="1.35"/>
<circle cx="475.12" cy="152.04" r="1.35"/>
<circle cx="476.94" cy="151.64" r="1.35"/>
<circle cx="478.76" cy="152.83" r="1.35"/>
<circle cx="480.58" cy="152.7" r="1.35"/>
<circle cx="482.4" cy="153.13" r="1.35"/>
<circle cx="484.22" cy="151.84" r="1.35"/>
<circle cx="486.04" cy="152.14" r="1.35"/>
<circle cx="487.86" cy="152.44" r="1.35"/>
<circle cx="489.68" cy="152.49" r="1.35"/>
<circle cx="491.5" cy="152.41" r="1.35"/>
<circle cx="493.32" cy="152.58" r="1.35"/>
<circle cx="495.14" cy="152.29" r="1.35"/>
<circle cx="496.96" cy="152.37" r="1.35"/>
<circle cx="498.78" cy="151.46" r="1.35"/>
<circle cx="500.6" cy="151.98" r="1.35"/>
<circle cx="502.42" cy="152.53" r="1.35"/>
<circle cx="504.24" cy="152.42" r="1.35"/>
<circle cx="506.06" cy="151.55" r="1.35"/>
<circle cx="507.88" cy="151.91" r="1.35"/>
<circle cx="509.7" cy="151.99" r="1.35"/>
<circle cx="511.52" cy="151.78" r="1.35"/>
<circle cx="513.34" cy="151.36" r="1.35"/>
<circle cx="515.16" cy="152.72" r="1.35"/>
<circle cx="516.98" cy="152.5" r="1.35"/>
<circle cx="518.8" cy="152.98" r="1.35"/>
<circle cx="520.62" cy="151.89" r="1.35"/>
<circle cx="522.44" cy="152.32" r="1.35"/>
<circle cx="524.26" cy="152.46" r="1.35"/>
<circle cx="526.08" cy="152.5" r="1.35"/>
<circle cx="527.9" cy="151.8" r="1.35"/>
<circle cx="529.72" cy="152.2" r="1.35"/>
<circle cx="531.54" cy="152.39" r="1.35"/>
<circle cx="533.36" cy="151.52" r="1.35"/>
<circle cx="535.18" cy="152.64" r="1.35"/>
<circle cx="537" cy="152.75" r="1.35"/>
<circle cx="538.82" cy="150.87" r="1.35"/>
<circle cx="540.64" cy="152.31" r="1.35"/>
<circle cx="542.46" cy="152.4" r="1.35"/>
<circle cx="544.28" cy="152.49" r="1.35"/>
<circle cx="546.1" cy="152.2" r="1.35"/>
<circle cx="547.92" cy="151.75" r="1.35"/>
<circle cx="549.74" cy="151.77" r="1.35"/>
<circle cx="551.56" cy="151.87" r="1.35"/>
<circle cx="553.38" cy="152.27" r="1.35"/>
<circle cx="555.2" cy="152.86" r="1.35"/>
</g>
<polyline points="373.2,162.94 375.02,146.92 376.84,147.16 378.66,147.81 380.48,147.3 382.3,147.93 384.12,147.75 385.94,148.38 387.76,147.89 389.58,147.65 391.4,147.81 393.22,147.32 395.04,146.73 396.86,147.02 398.68,147.88 400.5,148.11 402.32,148.07 404.14,148.24 405.96,147.71 407.78,147.5 409.6,147.63 411.42,147.62 413.24,147.64 415.06,147.79 416.88,148.12 418.7,146.81 420.52,147.17 422.34,148.2 424.16,148.2 425.98,148.03 427.8,147.71 429.62,147.06 431.44,147.19 433.26,147.16 435.08,147.15 436.9,147.14 438.72,147.33 440.54,147.48 442.36,147.79 444.18,148.65 446,147.79 447.82,146.77 449.64,148.01 451.46,148.05 453.28,147.19 455.1,147.68 456.92,147.98 458.74,146.9 460.56,147.39 462.38,147.32 464.2,148.02 466.02,147.46 467.84,147.52 469.66,147.31 471.48,147.12 473.3,147.13 475.12,147.63 476.94,147.36 478.76,148.33 480.58,147.38 482.4,147.36 484.22,147.93 486.04,148.13 487.86,147.75 489.68,148.37 491.5,147.54 493.32,147.57 495.14,148.23 496.96,147.7 498.78,147.16 500.6,147.16 502.42,147.19 504.24,147.8 506.06,147.9 507.88,147.93 509.7,147.41 511.52,146.48 513.34,146.98 515.16,146.88 516.98,147.01 518.8,148.58 520.62,147.83 522.44,147.95 524.26,147.06 526.08,146.83 527.9,148.07 529.72,147.7 531.54,147.43 533.36,147.98 535.18,148.06 537,148.08 538.82,147.26 540.64,148.2 542.46,147.12 544.28,147.68 546.1,147.33 547.92,146.91 549.74,148.08 551.56,148.16 553.38,147.5 555.2,148.27" fill="none" stroke="#000080" stroke-width="1.0" stroke-linejoin="round"/>
<g fill="#fff" stroke="#000080" stroke-width="0.85">
<circle cx="373.2" cy="162.94" r="1.35"/>
<circle cx="375.02" cy="146.92" r="1.35"/>
<circle cx="376.84" cy="147.16" r="1.35"/>
<circle cx="378.66" cy="147.81" r="1.35"/>
<circle cx="380.48" cy="147.3" r="1.35"/>
<circle cx="382.3" cy="147.93" r="1.35"/>
<circle cx="384.12" cy="147.75" r="1.35"/>
<circle cx="385.94" cy="148.38" r="1.35"/>
<circle cx="387.76" cy="147.89" r="1.35"/>
<circle cx="389.58" cy="147.65" r="1.35"/>
<circle cx="391.4" cy="147.81" r="1.35"/>
<circle cx="393.22" cy="147.32" r="1.35"/>
<circle cx="395.04" cy="146.73" r="1.35"/>
<circle cx="396.86" cy="147.02" r="1.35"/>
<circle cx="398.68" cy="147.88" r="1.35"/>
<circle cx="400.5" cy="148.11" r="1.35"/>
<circle cx="402.32" cy="148.07" r="1.35"/>
<circle cx="404.14" cy="148.24" r="1.35"/>
<circle cx="405.96" cy="147.71" r="1.35"/>
<circle cx="407.78" cy="147.5" r="1.35"/>
<circle cx="409.6" cy="147.63" r="1.35"/>
<circle cx="411.42" cy="147.62" r="1.35"/>
<circle cx="413.24" cy="147.64" r="1.35"/>
<circle cx="415.06" cy="147.79" r="1.35"/>
<circle cx="416.88" cy="148.12" r="1.35"/>
<circle cx="418.7" cy="146.81" r="1.35"/>
<circle cx="420.52" cy="147.17" r="1.35"/>
<circle cx="422.34" cy="148.2" r="1.35"/>
<circle cx="424.16" cy="148.2" r="1.35"/>
<circle cx="425.98" cy="148.03" r="1.35"/>
<circle cx="427.8" cy="147.71" r="1.35"/>
<circle cx="429.62" cy="147.06" r="1.35"/>
<circle cx="431.44" cy="147.19" r="1.35"/>
<circle cx="433.26" cy="147.16" r="1.35"/>
<circle cx="435.08" cy="147.15" r="1.35"/>
<circle cx="436.9" cy="147.14" r="1.35"/>
<circle cx="438.72" cy="147.33" r="1.35"/>
<circle cx="440.54" cy="147.48" r="1.35"/>
<circle cx="442.36" cy="147.79" r="1.35"/>
<circle cx="444.18" cy="148.65" r="1.35"/>
<circle cx="446" cy="147.79" r="1.35"/>
<circle cx="447.82" cy="146.77" r="1.35"/>
<circle cx="449.64" cy="148.01" r="1.35"/>
<circle cx="451.46" cy="148.05" r="1.35"/>
<circle cx="453.28" cy="147.19" r="1.35"/>
<circle cx="455.1" cy="147.68" r="1.35"/>
<circle cx="456.92" cy="147.98" r="1.35"/>
<circle cx="458.74" cy="146.9" r="1.35"/>
<circle cx="460.56" cy="147.39" r="1.35"/>
<circle cx="462.38" cy="147.32" r="1.35"/>
<circle cx="464.2" cy="148.02" r="1.35"/>
<circle cx="466.02" cy="147.46" r="1.35"/>
<circle cx="467.84" cy="147.52" r="1.35"/>
<circle cx="469.66" cy="147.31" r="1.35"/>
<circle cx="471.48" cy="147.12" r="1.35"/>
<circle cx="473.3" cy="147.13" r="1.35"/>
<circle cx="475.12" cy="147.63" r="1.35"/>
<circle cx="476.94" cy="147.36" r="1.35"/>
<circle cx="478.76" cy="148.33" r="1.35"/>
<circle cx="480.58" cy="147.38" r="1.35"/>
<circle cx="482.4" cy="147.36" r="1.35"/>
<circle cx="484.22" cy="147.93" r="1.35"/>
<circle cx="486.04" cy="148.13" r="1.35"/>
<circle cx="487.86" cy="147.75" r="1.35"/>
<circle cx="489.68" cy="148.37" r="1.35"/>
<circle cx="491.5" cy="147.54" r="1.35"/>
<circle cx="493.32" cy="147.57" r="1.35"/>
<circle cx="495.14" cy="148.23" r="1.35"/>
<circle cx="496.96" cy="147.7" r="1.35"/>
<circle cx="498.78" cy="147.16" r="1.35"/>
<circle cx="500.6" cy="147.16" r="1.35"/>
<circle cx="502.42" cy="147.19" r="1.35"/>
<circle cx="504.24" cy="147.8" r="1.35"/>
<circle cx="506.06" cy="147.9" r="1.35"/>
<circle cx="507.88" cy="147.93" r="1.35"/>
<circle cx="509.7" cy="147.41" r="1.35"/>
<circle cx="511.52" cy="146.48" r="1.35"/>
<circle cx="513.34" cy="146.98" r="1.35"/>
<circle cx="515.16" cy="146.88" r="1.35"/>
<circle cx="516.98" cy="147.01" r="1.35"/>
<circle cx="518.8" cy="148.58" r="1.35"/>
<circle cx="520.62" cy="147.83" r="1.35"/>
<circle cx="522.44" cy="147.95" r="1.35"/>
<circle cx="524.26" cy="147.06" r="1.35"/>
<circle cx="526.08" cy="146.83" r="1.35"/>
<circle cx="527.9" cy="148.07" r="1.35"/>
<circle cx="529.72" cy="147.7" r="1.35"/>
<circle cx="531.54" cy="147.43" r="1.35"/>
<circle cx="533.36" cy="147.98" r="1.35"/>
<circle cx="535.18" cy="148.06" r="1.35"/>
<circle cx="537" cy="148.08" r="1.35"/>
<circle cx="538.82" cy="147.26" r="1.35"/>
<circle cx="540.64" cy="148.2" r="1.35"/>
<circle cx="542.46" cy="147.12" r="1.35"/>
<circle cx="544.28" cy="147.68" r="1.35"/>
<circle cx="546.1" cy="147.33" r="1.35"/>
<circle cx="547.92" cy="146.91" r="1.35"/>
<circle cx="549.74" cy="148.08" r="1.35"/>
<circle cx="551.56" cy="148.16" r="1.35"/>
<circle cx="553.38" cy="147.5" r="1.35"/>
<circle cx="555.2" cy="148.27" r="1.35"/>
</g>
<polyline points="373.2,162.94 375.02,143.6 376.84,143.44 378.66,144.25 380.48,143.75 382.3,143.2 384.12,142.76 385.94,144.66 387.76,142.79 389.58,143.03 391.4,144.15 393.22,144.37 395.04,143.3 396.86,143.77 398.68,143.46 400.5,143.04 402.32,143.75 404.14,143.44 405.96,143.26 407.78,143.03 409.6,142.53 411.42,142.56 413.24,143.4 415.06,143.67 416.88,142.18 418.7,143.17 420.52,143.29 422.34,144.16 424.16,143.09 425.98,143.98 427.8,143.8 429.62,144.3 431.44,143.83 433.26,143.5 435.08,144.39 436.9,144.04 438.72,143.58 440.54,144.25 442.36,144.25 444.18,144.01 446,144.34 447.82,143.18 449.64,144.1 451.46,143.09 453.28,143.01 455.1,144.22 456.92,143.51 458.74,143.81 460.56,144.18 462.38,143.72 464.2,143.67 466.02,143.13 467.84,142.95 469.66,144.16 471.48,143.77 473.3,143.23 475.12,142.86 476.94,144.93 478.76,142.8 480.58,143.63 482.4,142.66 484.22,143.78 486.04,144.01 487.86,143.51 489.68,142.87 491.5,143.52 493.32,144.88 495.14,143.14 496.96,144.45 498.78,144.09 500.6,144.2 502.42,144.59 504.24,144.25 506.06,144.1 507.88,143.88 509.7,143.56 511.52,143.73 513.34,144.38 515.16,143.64 516.98,142.98 518.8,142.99 520.62,143.46 522.44,143.18 524.26,143.02 526.08,142.75 527.9,142.56 529.72,143.72 531.54,143.69 533.36,142.69 535.18,142.64 537,142.65 538.82,144.88 540.64,143.66 542.46,145.4 544.28,143.12 546.1,143.5 547.92,143.5 549.74,143.61 551.56,142.79 553.38,143.7 555.2,142.94" fill="none" stroke="#800080" stroke-width="1.0" stroke-linejoin="round"/>
<g fill="#fff" stroke="#800080" stroke-width="0.85">
<circle cx="373.2" cy="162.94" r="1.35"/>
<circle cx="375.02" cy="143.6" r="1.35"/>
<circle cx="376.84" cy="143.44" r="1.35"/>
<circle cx="378.66" cy="144.25" r="1.35"/>
<circle cx="380.48" cy="143.75" r="1.35"/>
<circle cx="382.3" cy="143.2" r="1.35"/>
<circle cx="384.12" cy="142.76" r="1.35"/>
<circle cx="385.94" cy="144.66" r="1.35"/>
<circle cx="387.76" cy="142.79" r="1.35"/>
<circle cx="389.58" cy="143.03" r="1.35"/>
<circle cx="391.4" cy="144.15" r="1.35"/>
<circle cx="393.22" cy="144.37" r="1.35"/>
<circle cx="395.04" cy="143.3" r="1.35"/>
<circle cx="396.86" cy="143.77" r="1.35"/>
<circle cx="398.68" cy="143.46" r="1.35"/>
<circle cx="400.5" cy="143.04" r="1.35"/>
<circle cx="402.32" cy="143.75" r="1.35"/>
<circle cx="404.14" cy="143.44" r="1.35"/>
<circle cx="405.96" cy="143.26" r="1.35"/>
<circle cx="407.78" cy="143.03" r="1.35"/>
<circle cx="409.6" cy="142.53" r="1.35"/>
<circle cx="411.42" cy="142.56" r="1.35"/>
<circle cx="413.24" cy="143.4" r="1.35"/>
<circle cx="415.06" cy="143.67" r="1.35"/>
<circle cx="416.88" cy="142.18" r="1.35"/>
<circle cx="418.7" cy="143.17" r="1.35"/>
<circle cx="420.52" cy="143.29" r="1.35"/>
<circle cx="422.34" cy="144.16" r="1.35"/>
<circle cx="424.16" cy="143.09" r="1.35"/>
<circle cx="425.98" cy="143.98" r="1.35"/>
<circle cx="427.8" cy="143.8" r="1.35"/>
<circle cx="429.62" cy="144.3" r="1.35"/>
<circle cx="431.44" cy="143.83" r="1.35"/>
<circle cx="433.26" cy="143.5" r="1.35"/>
<circle cx="435.08" cy="144.39" r="1.35"/>
<circle cx="436.9" cy="144.04" r="1.35"/>
<circle cx="438.72" cy="143.58" r="1.35"/>
<circle cx="440.54" cy="144.25" r="1.35"/>
<circle cx="442.36" cy="144.25" r="1.35"/>
<circle cx="444.18" cy="144.01" r="1.35"/>
<circle cx="446" cy="144.34" r="1.35"/>
<circle cx="447.82" cy="143.18" r="1.35"/>
<circle cx="449.64" cy="144.1" r="1.35"/>
<circle cx="451.46" cy="143.09" r="1.35"/>
<circle cx="453.28" cy="143.01" r="1.35"/>
<circle cx="455.1" cy="144.22" r="1.35"/>
<circle cx="456.92" cy="143.51" r="1.35"/>
<circle cx="458.74" cy="143.81" r="1.35"/>
<circle cx="460.56" cy="144.18" r="1.35"/>
<circle cx="462.38" cy="143.72" r="1.35"/>
<circle cx="464.2" cy="143.67" r="1.35"/>
<circle cx="466.02" cy="143.13" r="1.35"/>
<circle cx="467.84" cy="142.95" r="1.35"/>
<circle cx="469.66" cy="144.16" r="1.35"/>
<circle cx="471.48" cy="143.77" r="1.35"/>
<circle cx="473.3" cy="143.23" r="1.35"/>
<circle cx="475.12" cy="142.86" r="1.35"/>
<circle cx="476.94" cy="144.93" r="1.35"/>
<circle cx="478.76" cy="142.8" r="1.35"/>
<circle cx="480.58" cy="143.63" r="1.35"/>
<circle cx="482.4" cy="142.66" r="1.35"/>
<circle cx="484.22" cy="143.78" r="1.35"/>
<circle cx="486.04" cy="144.01" r="1.35"/>
<circle cx="487.86" cy="143.51" r="1.35"/>
<circle cx="489.68" cy="142.87" r="1.35"/>
<circle cx="491.5" cy="143.52" r="1.35"/>
<circle cx="493.32" cy="144.88" r="1.35"/>
<circle cx="495.14" cy="143.14" r="1.35"/>
<circle cx="496.96" cy="144.45" r="1.35"/>
<circle cx="498.78" cy="144.09" r="1.35"/>
<circle cx="500.6" cy="144.2" r="1.35"/>
<circle cx="502.42" cy="144.59" r="1.35"/>
<circle cx="504.24" cy="144.25" r="1.35"/>
<circle cx="506.06" cy="144.1" r="1.35"/>
<circle cx="507.88" cy="143.88" r="1.35"/>
<circle cx="509.7" cy="143.56" r="1.35"/>
<circle cx="511.52" cy="143.73" r="1.35"/>
<circle cx="513.34" cy="144.38" r="1.35"/>
<circle cx="515.16" cy="143.64" r="1.35"/>
<circle cx="516.98" cy="142.98" r="1.35"/>
<circle cx="518.8" cy="142.99" r="1.35"/>
<circle cx="520.62" cy="143.46" r="1.35"/>
<circle cx="522.44" cy="143.18" r="1.35"/>
<circle cx="524.26" cy="143.02" r="1.35"/>
<circle cx="526.08" cy="142.75" r="1.35"/>
<circle cx="527.9" cy="142.56" r="1.35"/>
<circle cx="529.72" cy="143.72" r="1.35"/>
<circle cx="531.54" cy="143.69" r="1.35"/>
<circle cx="533.36" cy="142.69" r="1.35"/>
<circle cx="535.18" cy="142.64" r="1.35"/>
<circle cx="537" cy="142.65" r="1.35"/>
<circle cx="538.82" cy="144.88" r="1.35"/>
<circle cx="540.64" cy="143.66" r="1.35"/>
<circle cx="542.46" cy="145.4" r="1.35"/>
<circle cx="544.28" cy="143.12" r="1.35"/>
<circle cx="546.1" cy="143.5" r="1.35"/>
<circle cx="547.92" cy="143.5" r="1.35"/>
<circle cx="549.74" cy="143.61" r="1.35"/>
<circle cx="551.56" cy="142.79" r="1.35"/>
<circle cx="553.38" cy="143.7" r="1.35"/>
<circle cx="555.2" cy="142.94" r="1.35"/>
</g>
<polyline points="373.2,162.94 375.02,139.12 376.84,139.06 378.66,139.28 380.48,140.02 382.3,138.9 384.12,138.9 385.94,139.43 387.76,138.89 389.58,138.79 391.4,140.14 393.22,139.43 395.04,139.62 396.86,139.9 398.68,139.15 400.5,139.87 402.32,139.61 404.14,139.19 405.96,139.13 407.78,139.15 409.6,137.97 411.42,139.66 413.24,139.19 415.06,140.09 416.88,139.05 418.7,138.63 420.52,138.6 422.34,139.74 424.16,139.52 425.98,138.57 427.8,139.4 429.62,138.75 431.44,139.94 433.26,138.49 435.08,138.71 436.9,139.06 438.72,139.84 440.54,139.44 442.36,139.25 444.18,139.18 446,139.41 447.82,139.48 449.64,139.23 451.46,138.48 453.28,140.58 455.1,140.19 456.92,140.3 458.74,139.77 460.56,140.42 462.38,139 464.2,139.29 466.02,139.5 467.84,139.77 469.66,139.25 471.48,139.23 473.3,139.14 475.12,139.79 476.94,138.94 478.76,140.25 480.58,138.57 482.4,141.24 484.22,139.71 486.04,140.09 487.86,138.86 489.68,140.26 491.5,138.22 493.32,140.3 495.14,138.09 496.96,139.07 498.78,139.33 500.6,139.08 502.42,137.99 504.24,138.79 506.06,140.72 507.88,138.61 509.7,139.2 511.52,140.34 513.34,138.87 515.16,140.09 516.98,139.23 518.8,139.2 520.62,139.74 522.44,138.94 524.26,139.98 526.08,139.23 527.9,139.68 529.72,139.46 531.54,138.16 533.36,139.28 535.18,140.02 537,139.42 538.82,139.82 540.64,139.33 542.46,139.24 544.28,139.29 546.1,139.29 547.92,139.68 549.74,139.07 551.56,138.69 553.38,139.73 555.2,139.38" fill="none" stroke="#ff0080" stroke-width="1.0" stroke-linejoin="round"/>
<g fill="#fff" stroke="#ff0080" stroke-width="0.85">
<circle cx="373.2" cy="162.94" r="1.35"/>
<circle cx="375.02" cy="139.12" r="1.35"/>
<circle cx="376.84" cy="139.06" r="1.35"/>
<circle cx="378.66" cy="139.28" r="1.35"/>
<circle cx="380.48" cy="140.02" r="1.35"/>
<circle cx="382.3" cy="138.9" r="1.35"/>
<circle cx="384.12" cy="138.9" r="1.35"/>
<circle cx="385.94" cy="139.43" r="1.35"/>
<circle cx="387.76" cy="138.89" r="1.35"/>
<circle cx="389.58" cy="138.79" r="1.35"/>
<circle cx="391.4" cy="140.14" r="1.35"/>
<circle cx="393.22" cy="139.43" r="1.35"/>
<circle cx="395.04" cy="139.62" r="1.35"/>
<circle cx="396.86" cy="139.9" r="1.35"/>
<circle cx="398.68" cy="139.15" r="1.35"/>
<circle cx="400.5" cy="139.87" r="1.35"/>
<circle cx="402.32" cy="139.61" r="1.35"/>
<circle cx="404.14" cy="139.19" r="1.35"/>
<circle cx="405.96" cy="139.13" r="1.35"/>
<circle cx="407.78" cy="139.15" r="1.35"/>
<circle cx="409.6" cy="137.97" r="1.35"/>
<circle cx="411.42" cy="139.66" r="1.35"/>
<circle cx="413.24" cy="139.19" r="1.35"/>
<circle cx="415.06" cy="140.09" r="1.35"/>
<circle cx="416.88" cy="139.05" r="1.35"/>
<circle cx="418.7" cy="138.63" r="1.35"/>
<circle cx="420.52" cy="138.6" r="1.35"/>
<circle cx="422.34" cy="139.74" r="1.35"/>
<circle cx="424.16" cy="139.52" r="1.35"/>
<circle cx="425.98" cy="138.57" r="1.35"/>
<circle cx="427.8" cy="139.4" r="1.35"/>
<circle cx="429.62" cy="138.75" r="1.35"/>
<circle cx="431.44" cy="139.94" r="1.35"/>
<circle cx="433.26" cy="138.49" r="1.35"/>
<circle cx="435.08" cy="138.71" r="1.35"/>
<circle cx="436.9" cy="139.06" r="1.35"/>
<circle cx="438.72" cy="139.84" r="1.35"/>
<circle cx="440.54" cy="139.44" r="1.35"/>
<circle cx="442.36" cy="139.25" r="1.35"/>
<circle cx="444.18" cy="139.18" r="1.35"/>
<circle cx="446" cy="139.41" r="1.35"/>
<circle cx="447.82" cy="139.48" r="1.35"/>
<circle cx="449.64" cy="139.23" r="1.35"/>
<circle cx="451.46" cy="138.48" r="1.35"/>
<circle cx="453.28" cy="140.58" r="1.35"/>
<circle cx="455.1" cy="140.19" r="1.35"/>
<circle cx="456.92" cy="140.3" r="1.35"/>
<circle cx="458.74" cy="139.77" r="1.35"/>
<circle cx="460.56" cy="140.42" r="1.35"/>
<circle cx="462.38" cy="139" r="1.35"/>
<circle cx="464.2" cy="139.29" r="1.35"/>
<circle cx="466.02" cy="139.5" r="1.35"/>
<circle cx="467.84" cy="139.77" r="1.35"/>
<circle cx="469.66" cy="139.25" r="1.35"/>
<circle cx="471.48" cy="139.23" r="1.35"/>
<circle cx="473.3" cy="139.14" r="1.35"/>
<circle cx="475.12" cy="139.79" r="1.35"/>
<circle cx="476.94" cy="138.94" r="1.35"/>
<circle cx="478.76" cy="140.25" r="1.35"/>
<circle cx="480.58" cy="138.57" r="1.35"/>
<circle cx="482.4" cy="141.24" r="1.35"/>
<circle cx="484.22" cy="139.71" r="1.35"/>
<circle cx="486.04" cy="140.09" r="1.35"/>
<circle cx="487.86" cy="138.86" r="1.35"/>
<circle cx="489.68" cy="140.26" r="1.35"/>
<circle cx="491.5" cy="138.22" r="1.35"/>
<circle cx="493.32" cy="140.3" r="1.35"/>
<circle cx="495.14" cy="138.09" r="1.35"/>
<circle cx="496.96" cy="139.07" r="1.35"/>
<circle cx="498.78" cy="139.33" r="1.35"/>
<circle cx="500.6" cy="139.08" r="1.35"/>
<circle cx="502.42" cy="137.99" r="1.35"/>
<circle cx="504.24" cy="138.79" r="1.35"/>
<circle cx="506.06" cy="140.72" r="1.35"/>
<circle cx="507.88" cy="138.61" r="1.35"/>
<circle cx="509.7" cy="139.2" r="1.35"/>
<circle cx="511.52" cy="140.34" r="1.35"/>
<circle cx="513.34" cy="138.87" r="1.35"/>
<circle cx="515.16" cy="140.09" r="1.35"/>
<circle cx="516.98" cy="139.23" r="1.35"/>
<circle cx="518.8" cy="139.2" r="1.35"/>
<circle cx="520.62" cy="139.74" r="1.35"/>
<circle cx="522.44" cy="138.94" r="1.35"/>
<circle cx="524.26" cy="139.98" r="1.35"/>
<circle cx="526.08" cy="139.23" r="1.35"/>
<circle cx="527.9" cy="139.68" r="1.35"/>
<circle cx="529.72" cy="139.46" r="1.35"/>
<circle cx="531.54" cy="138.16" r="1.35"/>
<circle cx="533.36" cy="139.28" r="1.35"/>
<circle cx="535.18" cy="140.02" r="1.35"/>
<circle cx="537" cy="139.42" r="1.35"/>
<circle cx="538.82" cy="139.82" r="1.35"/>
<circle cx="540.64" cy="139.33" r="1.35"/>
<circle cx="542.46" cy="139.24" r="1.35"/>
<circle cx="544.28" cy="139.29" r="1.35"/>
<circle cx="546.1" cy="139.29" r="1.35"/>
<circle cx="547.92" cy="139.68" r="1.35"/>
<circle cx="549.74" cy="139.07" r="1.35"/>
<circle cx="551.56" cy="138.69" r="1.35"/>
<circle cx="553.38" cy="139.73" r="1.35"/>
<circle cx="555.2" cy="139.38" r="1.35"/>
</g>
<polyline points="373.2,162.94 375.02,133.66 376.84,133.78 378.66,134.98 380.48,134.45 382.3,135.48 384.12,135.13 385.94,134.48 387.76,134.08 389.58,133.86 391.4,134.7 393.22,135.39 395.04,134.23 396.86,134.61 398.68,134.21 400.5,134.39 402.32,134.02 404.14,134.06 405.96,133.94 407.78,134.8 409.6,133.83 411.42,134.83 413.24,134.44 415.06,133.26 416.88,134.26 418.7,135.26 420.52,133.51 422.34,133.83 424.16,133.74 425.98,134.36 427.8,134.26 429.62,134.65 431.44,134.96 433.26,133.48 435.08,134.74 436.9,134.81 438.72,134.79 440.54,133.26 442.36,133.91 444.18,134.74 446,134.52 447.82,134.16 449.64,133.91 451.46,135.56 453.28,133.9 455.1,134.64 456.92,134.95 458.74,134.75 460.56,133.97 462.38,133.33 464.2,134.4 466.02,134.13 467.84,135.03 469.66,134.17 471.48,133.95 473.3,135.48 475.12,134.83 476.94,133.97 478.76,135.66 480.58,134.74 482.4,134.1 484.22,135.61 486.04,134.76 487.86,134.46 489.68,133.9 491.5,135.34 493.32,133.76 495.14,134.29 496.96,133.7 498.78,133.72 500.6,134.27 502.42,134.17 504.24,135.64 506.06,135.39 507.88,135.16 509.7,134.72 511.52,133.88 513.34,135.67 515.16,134.71 516.98,135.37 518.8,135.52 520.62,133.52 522.44,134.43 524.26,133.41 526.08,133.71 527.9,135.1 529.72,135.72 531.54,133.12 533.36,134.76 535.18,135.25 537,134.04 538.82,134.4 540.64,134.94 542.46,134.72 544.28,134.39 546.1,134.44 547.92,133.99 549.74,134.73 551.56,134.72 553.38,134.1 555.2,134.29" fill="none" stroke="#008000" stroke-width="1.0" stroke-linejoin="round"/>
<g fill="#fff" stroke="#008000" stroke-width="0.85">
<circle cx="373.2" cy="162.94" r="1.35"/>
<circle cx="375.02" cy="133.66" r="1.35"/>
<circle cx="376.84" cy="133.78" r="1.35"/>
<circle cx="378.66" cy="134.98" r="1.35"/>
<circle cx="380.48" cy="134.45" r="1.35"/>
<circle cx="382.3" cy="135.48" r="1.35"/>
<circle cx="384.12" cy="135.13" r="1.35"/>
<circle cx="385.94" cy="134.48" r="1.35"/>
<circle cx="387.76" cy="134.08" r="1.35"/>
<circle cx="389.58" cy="133.86" r="1.35"/>
<circle cx="391.4" cy="134.7" r="1.35"/>
<circle cx="393.22" cy="135.39" r="1.35"/>
<circle cx="395.04" cy="134.23" r="1.35"/>
<circle cx="396.86" cy="134.61" r="1.35"/>
<circle cx="398.68" cy="134.21" r="1.35"/>
<circle cx="400.5" cy="134.39" r="1.35"/>
<circle cx="402.32" cy="134.02" r="1.35"/>
<circle cx="404.14" cy="134.06" r="1.35"/>
<circle cx="405.96" cy="133.94" r="1.35"/>
<circle cx="407.78" cy="134.8" r="1.35"/>
<circle cx="409.6" cy="133.83" r="1.35"/>
<circle cx="411.42" cy="134.83" r="1.35"/>
<circle cx="413.24" cy="134.44" r="1.35"/>
<circle cx="415.06" cy="133.26" r="1.35"/>
<circle cx="416.88" cy="134.26" r="1.35"/>
<circle cx="418.7" cy="135.26" r="1.35"/>
<circle cx="420.52" cy="133.51" r="1.35"/>
<circle cx="422.34" cy="133.83" r="1.35"/>
<circle cx="424.16" cy="133.74" r="1.35"/>
<circle cx="425.98" cy="134.36" r="1.35"/>
<circle cx="427.8" cy="134.26" r="1.35"/>
<circle cx="429.62" cy="134.65" r="1.35"/>
<circle cx="431.44" cy="134.96" r="1.35"/>
<circle cx="433.26" cy="133.48" r="1.35"/>
<circle cx="435.08" cy="134.74" r="1.35"/>
<circle cx="436.9" cy="134.81" r="1.35"/>
<circle cx="438.72" cy="134.79" r="1.35"/>
<circle cx="440.54" cy="133.26" r="1.35"/>
<circle cx="442.36" cy="133.91" r="1.35"/>
<circle cx="444.18" cy="134.74" r="1.35"/>
<circle cx="446" cy="134.52" r="1.35"/>
<circle cx="447.82" cy="134.16" r="1.35"/>
<circle cx="449.64" cy="133.91" r="1.35"/>
<circle cx="451.46" cy="135.56" r="1.35"/>
<circle cx="453.28" cy="133.9" r="1.35"/>
<circle cx="455.1" cy="134.64" r="1.35"/>
<circle cx="456.92" cy="134.95" r="1.35"/>
<circle cx="458.74" cy="134.75" r="1.35"/>
<circle cx="460.56" cy="133.97" r="1.35"/>
<circle cx="462.38" cy="133.33" r="1.35"/>
<circle cx="464.2" cy="134.4" r="1.35"/>
<circle cx="466.02" cy="134.13" r="1.35"/>
<circle cx="467.84" cy="135.03" r="1.35"/>
<circle cx="469.66" cy="134.17" r="1.35"/>
<circle cx="471.48" cy="133.95" r="1.35"/>
<circle cx="473.3" cy="135.48" r="1.35"/>
<circle cx="475.12" cy="134.83" r="1.35"/>
<circle cx="476.94" cy="133.97" r="1.35"/>
<circle cx="478.76" cy="135.66" r="1.35"/>
<circle cx="480.58" cy="134.74" r="1.35"/>
<circle cx="482.4" cy="134.1" r="1.35"/>
<circle cx="484.22" cy="135.61" r="1.35"/>
<circle cx="486.04" cy="134.76" r="1.35"/>
<circle cx="487.86" cy="134.46" r="1.35"/>
<circle cx="489.68" cy="133.9" r="1.35"/>
<circle cx="491.5" cy="135.34" r="1.35"/>
<circle cx="493.32" cy="133.76" r="1.35"/>
<circle cx="495.14" cy="134.29" r="1.35"/>
<circle cx="496.96" cy="133.7" r="1.35"/>
<circle cx="498.78" cy="133.72" r="1.35"/>
<circle cx="500.6" cy="134.27" r="1.35"/>
<circle cx="502.42" cy="134.17" r="1.35"/>
<circle cx="504.24" cy="135.64" r="1.35"/>
<circle cx="506.06" cy="135.39" r="1.35"/>
<circle cx="507.88" cy="135.16" r="1.35"/>
<circle cx="509.7" cy="134.72" r="1.35"/>
<circle cx="511.52" cy="133.88" r="1.35"/>
<circle cx="513.34" cy="135.67" r="1.35"/>
<circle cx="515.16" cy="134.71" r="1.35"/>
<circle cx="516.98" cy="135.37" r="1.35"/>
<circle cx="518.8" cy="135.52" r="1.35"/>
<circle cx="520.62" cy="133.52" r="1.35"/>
<circle cx="522.44" cy="134.43" r="1.35"/>
<circle cx="524.26" cy="133.41" r="1.35"/>
<circle cx="526.08" cy="133.71" r="1.35"/>
<circle cx="527.9" cy="135.1" r="1.35"/>
<circle cx="529.72" cy="135.72" r="1.35"/>
<circle cx="531.54" cy="133.12" r="1.35"/>
<circle cx="533.36" cy="134.76" r="1.35"/>
<circle cx="535.18" cy="135.25" r="1.35"/>
<circle cx="537" cy="134.04" r="1.35"/>
<circle cx="538.82" cy="134.4" r="1.35"/>
<circle cx="540.64" cy="134.94" r="1.35"/>
<circle cx="542.46" cy="134.72" r="1.35"/>
<circle cx="544.28" cy="134.39" r="1.35"/>
<circle cx="546.1" cy="134.44" r="1.35"/>
<circle cx="547.92" cy="133.99" r="1.35"/>
<circle cx="549.74" cy="134.73" r="1.35"/>
<circle cx="551.56" cy="134.72" r="1.35"/>
<circle cx="553.38" cy="134.1" r="1.35"/>
<circle cx="555.2" cy="134.29" r="1.35"/>
</g>
<polyline points="373.2,162.94 375.02,130.27 376.84,130.16 378.66,130.95 380.48,128.96 382.3,131.13 384.12,129.93 385.94,130.75 387.76,129.83 389.58,129.53 391.4,131.31 393.22,130.24 395.04,131.4 396.86,129.03 398.68,130.42 400.5,131.27 402.32,130.61 404.14,129.1 405.96,128.97 407.78,129.13 409.6,130.67 411.42,130.2 413.24,128.86 415.06,130.63 416.88,130.33 418.7,130.8 420.52,130.96 422.34,129.18 424.16,129.61 425.98,129.75 427.8,129.65 429.62,129.32 431.44,128.95 433.26,130.09 435.08,130.34 436.9,130.85 438.72,129.27 440.54,130.47 442.36,131.2 444.18,130.29 446,130.07 447.82,129.46 449.64,129.33 451.46,130.63 453.28,130.68 455.1,130.33 456.92,130.99 458.74,130.17 460.56,129.74 462.38,130.05 464.2,131.29 466.02,130.98 467.84,129.12 469.66,130.84 471.48,129.53 473.3,129.61 475.12,130.32 476.94,130.83 478.76,129.93 480.58,130.75 482.4,130.22 484.22,130 486.04,130.62 487.86,130.25 489.68,130.31 491.5,131.01 493.32,130.23 495.14,130.56 496.96,131.45 498.78,130.34 500.6,130.3 502.42,130.54 504.24,131.63 506.06,129.5 507.88,129.57 509.7,129.6 511.52,129.84 513.34,131.03 515.16,129.99 516.98,130.78 518.8,128.44 520.62,130.47 522.44,129.58 524.26,131.25 526.08,130.97 527.9,130.49 529.72,129.56 531.54,129.67 533.36,129.87 535.18,131.47 537,129.24 538.82,130.78 540.64,128.87 542.46,128.68 544.28,129.46 546.1,129.34 547.92,131.03 549.74,128.15 551.56,129.92 553.38,129.33 555.2,130.73" fill="none" stroke="#800000" stroke-width="1.0" stroke-linejoin="round"/>
<g fill="#fff" stroke="#800000" stroke-width="0.85">
<circle cx="373.2" cy="162.94" r="1.35"/>
<circle cx="375.02" cy="130.27" r="1.35"/>
<circle cx="376.84" cy="130.16" r="1.35"/>
<circle cx="378.66" cy="130.95" r="1.35"/>
<circle cx="380.48" cy="128.96" r="1.35"/>
<circle cx="382.3" cy="131.13" r="1.35"/>
<circle cx="384.12" cy="129.93" r="1.35"/>
<circle cx="385.94" cy="130.75" r="1.35"/>
<circle cx="387.76" cy="129.83" r="1.35"/>
<circle cx="389.58" cy="129.53" r="1.35"/>
<circle cx="391.4" cy="131.31" r="1.35"/>
<circle cx="393.22" cy="130.24" r="1.35"/>
<circle cx="395.04" cy="131.4" r="1.35"/>
<circle cx="396.86" cy="129.03" r="1.35"/>
<circle cx="398.68" cy="130.42" r="1.35"/>
<circle cx="400.5" cy="131.27" r="1.35"/>
<circle cx="402.32" cy="130.61" r="1.35"/>
<circle cx="404.14" cy="129.1" r="1.35"/>
<circle cx="405.96" cy="128.97" r="1.35"/>
<circle cx="407.78" cy="129.13" r="1.35"/>
<circle cx="409.6" cy="130.67" r="1.35"/>
<circle cx="411.42" cy="130.2" r="1.35"/>
<circle cx="413.24" cy="128.86" r="1.35"/>
<circle cx="415.06" cy="130.63" r="1.35"/>
<circle cx="416.88" cy="130.33" r="1.35"/>
<circle cx="418.7" cy="130.8" r="1.35"/>
<circle cx="420.52" cy="130.96" r="1.35"/>
<circle cx="422.34" cy="129.18" r="1.35"/>
<circle cx="424.16" cy="129.61" r="1.35"/>
<circle cx="425.98" cy="129.75" r="1.35"/>
<circle cx="427.8" cy="129.65" r="1.35"/>
<circle cx="429.62" cy="129.32" r="1.35"/>
<circle cx="431.44" cy="128.95" r="1.35"/>
<circle cx="433.26" cy="130.09" r="1.35"/>
<circle cx="435.08" cy="130.34" r="1.35"/>
<circle cx="436.9" cy="130.85" r="1.35"/>
<circle cx="438.72" cy="129.27" r="1.35"/>
<circle cx="440.54" cy="130.47" r="1.35"/>
<circle cx="442.36" cy="131.2" r="1.35"/>
<circle cx="444.18" cy="130.29" r="1.35"/>
<circle cx="446" cy="130.07" r="1.35"/>
<circle cx="447.82" cy="129.46" r="1.35"/>
<circle cx="449.64" cy="129.33" r="1.35"/>
<circle cx="451.46" cy="130.63" r="1.35"/>
<circle cx="453.28" cy="130.68" r="1.35"/>
<circle cx="455.1" cy="130.33" r="1.35"/>
<circle cx="456.92" cy="130.99" r="1.35"/>
<circle cx="458.74" cy="130.17" r="1.35"/>
<circle cx="460.56" cy="129.74" r="1.35"/>
<circle cx="462.38" cy="130.05" r="1.35"/>
<circle cx="464.2" cy="131.29" r="1.35"/>
<circle cx="466.02" cy="130.98" r="1.35"/>
<circle cx="467.84" cy="129.12" r="1.35"/>
<circle cx="469.66" cy="130.84" r="1.35"/>
<circle cx="471.48" cy="129.53" r="1.35"/>
<circle cx="473.3" cy="129.61" r="1.35"/>
<circle cx="475.12" cy="130.32" r="1.35"/>
<circle cx="476.94" cy="130.83" r="1.35"/>
<circle cx="478.76" cy="129.93" r="1.35"/>
<circle cx="480.58" cy="130.75" r="1.35"/>
<circle cx="482.4" cy="130.22" r="1.35"/>
<circle cx="484.22" cy="130" r="1.35"/>
<circle cx="486.04" cy="130.62" r="1.35"/>
<circle cx="487.86" cy="130.25" r="1.35"/>
<circle cx="489.68" cy="130.31" r="1.35"/>
<circle cx="491.5" cy="131.01" r="1.35"/>
<circle cx="493.32" cy="130.23" r="1.35"/>
<circle cx="495.14" cy="130.56" r="1.35"/>
<circle cx="496.96" cy="131.45" r="1.35"/>
<circle cx="498.78" cy="130.34" r="1.35"/>
<circle cx="500.6" cy="130.3" r="1.35"/>
<circle cx="502.42" cy="130.54" r="1.35"/>
<circle cx="504.24" cy="131.63" r="1.35"/>
<circle cx="506.06" cy="129.5" r="1.35"/>
<circle cx="507.88" cy="129.57" r="1.35"/>
<circle cx="509.7" cy="129.6" r="1.35"/>
<circle cx="511.52" cy="129.84" r="1.35"/>
<circle cx="513.34" cy="131.03" r="1.35"/>
<circle cx="515.16" cy="129.99" r="1.35"/>
<circle cx="516.98" cy="130.78" r="1.35"/>
<circle cx="518.8" cy="128.44" r="1.35"/>
<circle cx="520.62" cy="130.47" r="1.35"/>
<circle cx="522.44" cy="129.58" r="1.35"/>
<circle cx="524.26" cy="131.25" r="1.35"/>
<circle cx="526.08" cy="130.97" r="1.35"/>
<circle cx="527.9" cy="130.49" r="1.35"/>
<circle cx="529.72" cy="129.56" r="1.35"/>
<circle cx="531.54" cy="129.67" r="1.35"/>
<circle cx="533.36" cy="129.87" r="1.35"/>
<circle cx="535.18" cy="131.47" r="1.35"/>
<circle cx="537" cy="129.24" r="1.35"/>
<circle cx="538.82" cy="130.78" r="1.35"/>
<circle cx="540.64" cy="128.87" r="1.35"/>
<circle cx="542.46" cy="128.68" r="1.35"/>
<circle cx="544.28" cy="129.46" r="1.35"/>
<circle cx="546.1" cy="129.34" r="1.35"/>
<circle cx="547.92" cy="131.03" r="1.35"/>
<circle cx="549.74" cy="128.15" r="1.35"/>
<circle cx="551.56" cy="129.92" r="1.35"/>
<circle cx="553.38" cy="129.33" r="1.35"/>
<circle cx="555.2" cy="130.73" r="1.35"/>
</g>
<rect x="354.6" y="22.7" width="219" height="176.4" fill="none" stroke="#000" stroke-width="1.4"/>
<g stroke="#000" stroke-width="1.2">
<line x1="212.5" y1="299.93" x2="215.5" y2="299.93"/>
<line x1="212.5" y1="344.05" x2="215.5" y2="344.05"/>
<line x1="212.5" y1="388.18" x2="215.5" y2="388.18"/>
<line x1="227.6" y1="432.3" x2="227.6" y2="428.9"/>
<line x1="258.82" y1="432.3" x2="258.82" y2="428.9"/>
<line x1="290.05" y1="432.3" x2="290.05" y2="428.9"/>
<line x1="321.27" y1="432.3" x2="321.27" y2="428.9"/>
<line x1="352.5" y1="432.3" x2="352.5" y2="428.9"/>
<line x1="383.73" y1="432.3" x2="383.73" y2="428.9"/>
<line x1="414.95" y1="432.3" x2="414.95" y2="428.9"/>
</g>
<g font-size="11.5">
<text x="208.2" y="260.1" text-anchor="end">10<tspan font-size="7.5" dy="-5">0</tspan></text>
<text x="208.2" y="304.23" text-anchor="end">10<tspan font-size="7.5" dy="-3.6">-1</tspan></text>
<text x="208.2" y="348.35" text-anchor="end">10<tspan font-size="7.5" dy="-3.6">-2</tspan></text>
<text x="208.2" y="392.48" text-anchor="end">10<tspan font-size="7.5" dy="-3.6">-3</tspan></text>
<text x="208.2" y="436.6" text-anchor="end">10<tspan font-size="7.5" dy="-3.6">-4</tspan></text>
</g>
<g font-size="11.5" text-anchor="middle">
<text x="227.6" y="444.9">0</text>
<text x="258.82" y="444.9">50</text>
<text x="290.05" y="444.9">100</text>
<text x="321.27" y="444.9">150</text>
<text x="352.5" y="444.9">200</text>
<text x="383.73" y="444.9">250</text>
<text x="414.95" y="444.9">300</text>
</g>
<text x="321.75" y="464.3" font-size="11.6" text-anchor="middle">Temperature (K)</text>
<text transform="translate(178.8,419.6) rotate(-90)" font-size="11.5" textLength="153" lengthAdjust="spacingAndGlyphs">Standard deviation (in log scale)</text>
<text x="170.6" y="255.2" font-size="15">(c)</text>
<polyline points="227.6,307.6 258.82,309.6 290.05,306.8 321.27,310 352.5,303.6 383.73,305 414.95,319" fill="none" stroke="#f58a8a" stroke-width="2"/>
<circle cx="227.6" cy="307.6" r="2.9" fill="#fff" stroke="#ff0000" stroke-width="1.7"/>
<circle cx="258.82" cy="309.6" r="2.9" fill="#fff" stroke="#ff0000" stroke-width="1.7"/>
<circle cx="290.05" cy="306.8" r="2.9" fill="#fff" stroke="#ff0000" stroke-width="1.7"/>
<circle cx="321.27" cy="310" r="2.9" fill="#fff" stroke="#ff0000" stroke-width="1.7"/>
<circle cx="352.5" cy="303.6" r="2.9" fill="#fff" stroke="#ff0000" stroke-width="1.7"/>
<circle cx="383.73" cy="305" r="2.9" fill="#fff" stroke="#ff0000" stroke-width="1.7"/>
<circle cx="414.95" cy="319" r="2.9" fill="#fff" stroke="#ff0000" stroke-width="1.7"/>
<polyline points="227.6,372.4 258.82,370.4 290.05,364.2 321.27,359.4 352.5,355.6 383.73,352 414.95,349.4" fill="none" stroke="#8c8c8c" stroke-width="2"/>
<circle cx="227.6" cy="372.4" r="2.9" fill="#fff" stroke="#000" stroke-width="1.7"/>
<circle cx="258.82" cy="370.4" r="2.9" fill="#fff" stroke="#000" stroke-width="1.7"/>
<circle cx="290.05" cy="364.2" r="2.9" fill="#fff" stroke="#000" stroke-width="1.7"/>
<circle cx="321.27" cy="359.4" r="2.9" fill="#fff" stroke="#000" stroke-width="1.7"/>
<circle cx="352.5" cy="355.6" r="2.9" fill="#fff" stroke="#000" stroke-width="1.7"/>
<circle cx="383.73" cy="352" r="2.9" fill="#fff" stroke="#000" stroke-width="1.7"/>
<circle cx="414.95" cy="349.4" r="2.9" fill="#fff" stroke="#000" stroke-width="1.7"/>
<line x1="239" y1="269.8" x2="251.5" y2="269.8" stroke="#f58a8a" stroke-width="2"/>
<circle cx="245.2" cy="269.8" r="2" fill="#fff" stroke="#ff0000" stroke-width="1.5"/>
<text x="262" y="274" font-size="11.6">Without defects</text>
<line x1="239" y1="284.2" x2="251.5" y2="284.2" stroke="#8c8c8c" stroke-width="2"/>
<circle cx="245.2" cy="284.2" r="2" fill="#fff" stroke="#000" stroke-width="1.5"/>
<text x="262" y="288.4" font-size="11.6">With defects</text>
<rect x="212.5" y="255.8" width="218.5" height="176.5" fill="none" stroke="#000" stroke-width="1.4"/>
</svg>
</body></html>
